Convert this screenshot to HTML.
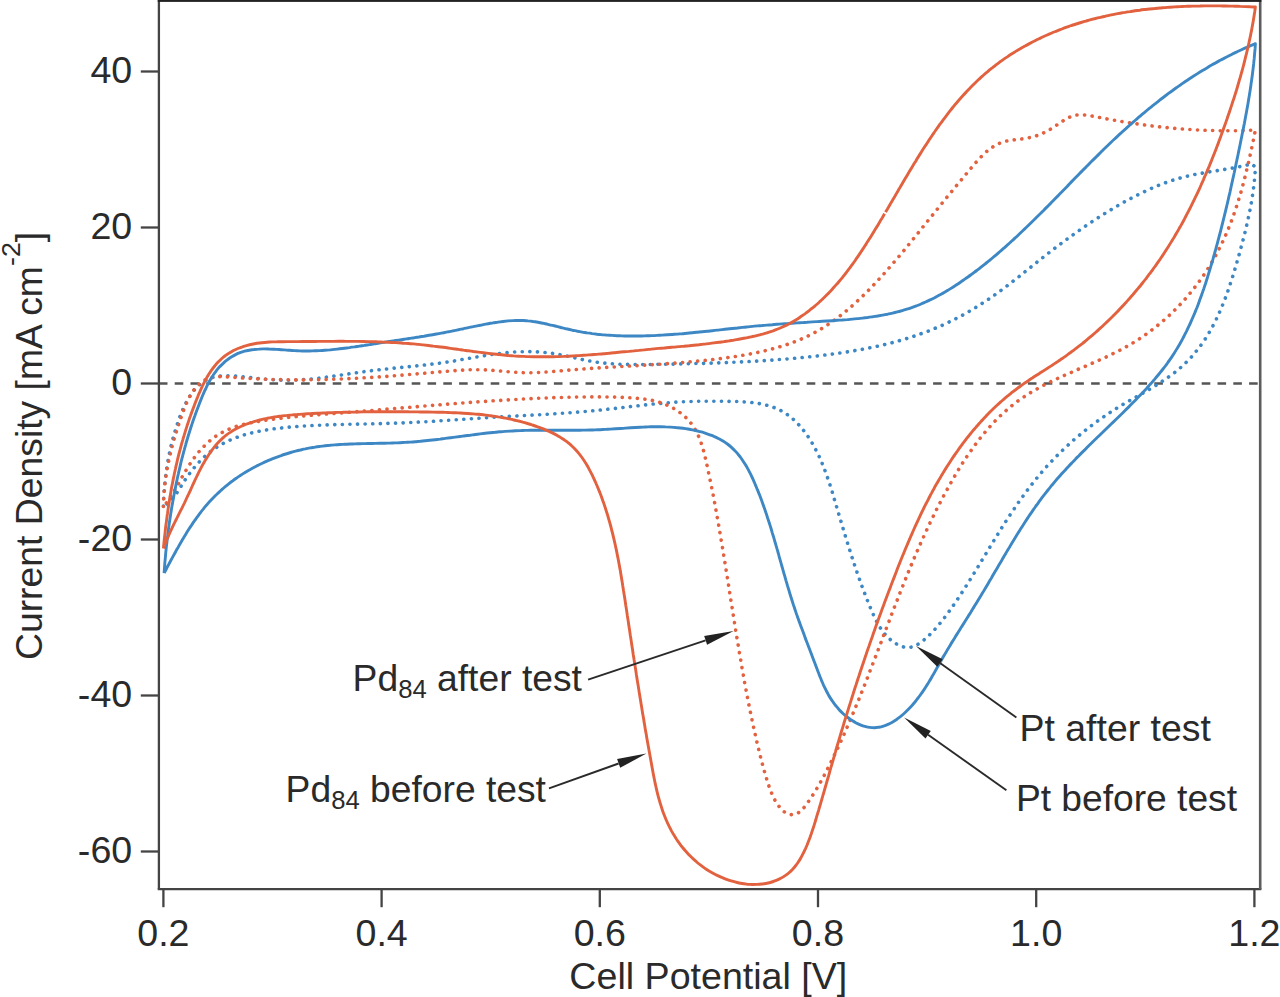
<!DOCTYPE html>
<html><head><meta charset="utf-8"><title>CV plot</title>
<style>
html,body{margin:0;padding:0;background:#fff;}
body{width:1280px;height:997px;overflow:hidden;}
svg{display:block;}
text{font-family:"Liberation Sans",sans-serif;fill:#2a2a2a;}
</style></head><body>
<svg width="1280" height="997" viewBox="0 0 1280 997">
<rect width="1280" height="997" fill="#fff"/>
<line x1="158.9" y1="383.5" x2="1260.2" y2="383.5" stroke="#555" stroke-width="2.4" stroke-dasharray="8.6 7.2"/>
<g fill="none" stroke-linejoin="round" stroke-linecap="butt">
<path d="M163.4 506.0C163.4 505.1 163.5 502.5 163.6 500.8C163.7 499.1 163.8 497.4 163.9 495.7C164.0 494.0 164.1 492.3 164.3 490.6C164.4 488.9 164.5 487.3 164.7 485.6C164.8 484.0 165.0 482.3 165.2 480.7C165.3 479.0 165.5 477.4 165.7 475.8C165.9 474.1 166.1 472.5 166.4 470.9C166.6 469.3 166.8 467.7 167.1 466.1C167.4 464.4 167.6 462.8 167.9 461.2C168.2 459.6 168.5 458.0 168.8 456.4C169.1 454.8 169.5 453.2 169.8 451.6C170.2 450.0 170.5 448.3 170.9 446.7C171.3 445.1 171.7 443.5 172.1 441.9C172.5 440.2 172.9 438.6 173.4 437.0C173.8 435.3 174.3 433.7 174.8 432.1C175.3 430.4 175.8 428.7 176.3 427.1C176.9 425.4 177.4 423.7 178.0 422.1C178.5 420.4 179.1 418.7 179.7 417.1C180.4 415.4 181.0 413.8 181.7 412.2C182.4 410.5 183.1 408.9 183.8 407.3C184.5 405.8 185.3 404.2 186.1 402.7C186.9 401.2 187.7 399.7 188.6 398.3C189.4 396.8 190.3 395.4 191.3 394.1C192.2 392.7 193.2 391.4 194.2 390.2C195.2 389.0 196.3 387.8 197.4 386.7C198.5 385.6 199.6 384.6 200.8 383.6C202.0 382.7 203.3 381.8 204.6 381.0C205.9 380.2 207.2 379.5 208.6 378.9C210.0 378.3 211.5 377.8 213.0 377.3C214.5 376.9 216.0 376.6 217.6 376.4C219.2 376.1 220.9 375.9 222.5 375.8C224.2 375.7 225.9 375.7 227.6 375.7C229.3 375.7 231.1 375.8 232.8 375.9C234.6 376.0 236.4 376.1 238.1 376.3C239.9 376.5 241.7 376.7 243.4 376.8C245.2 377.0 247.0 377.2 248.7 377.4C250.5 377.6 252.2 377.8 253.9 378.0C255.6 378.2 257.4 378.4 259.1 378.5C260.7 378.7 262.4 378.9 264.1 379.0C265.8 379.2 267.5 379.3 269.1 379.4C270.8 379.6 272.4 379.7 274.1 379.8C275.7 379.9 277.4 380.0 279.0 380.0C280.7 380.1 282.3 380.2 283.9 380.2C285.6 380.2 287.2 380.2 288.9 380.2C290.5 380.2 292.2 380.2 293.8 380.1C295.4 380.1 297.1 380.0 298.7 379.9C300.4 379.9 302.0 379.8 303.7 379.6C305.4 379.5 307.0 379.4 308.7 379.2C310.3 379.1 312.0 378.9 313.6 378.7C315.3 378.6 317.0 378.4 318.6 378.2C320.3 378.0 322.0 377.8 323.6 377.5C325.3 377.3 326.9 377.1 328.6 376.9C330.3 376.6 332.0 376.4 333.6 376.1C335.3 375.9 337.0 375.6 338.6 375.4C340.3 375.1 342.0 374.9 343.6 374.6C345.3 374.4 347.0 374.1 348.6 373.9C350.3 373.6 352.0 373.4 353.7 373.1C355.3 372.9 357.0 372.6 358.7 372.4C360.3 372.1 362.0 371.9 363.7 371.7C365.3 371.5 367.0 371.2 368.7 371.0C370.3 370.8 372.0 370.6 373.7 370.4C375.3 370.2 377.0 370.0 378.7 369.8C380.3 369.6 382.0 369.4 383.7 369.3C385.3 369.1 387.0 368.9 388.7 368.7C390.3 368.6 392.0 368.4 393.7 368.2C395.3 368.0 397.0 367.9 398.6 367.7C400.3 367.5 402.0 367.4 403.6 367.2C405.3 367.0 407.0 366.9 408.6 366.7C410.3 366.5 411.9 366.4 413.6 366.2C415.3 366.0 416.9 365.8 418.6 365.7C420.2 365.5 421.9 365.3 423.6 365.1C425.2 364.9 426.9 364.7 428.5 364.5C430.2 364.3 431.8 364.1 433.5 363.9C435.2 363.7 436.8 363.5 438.5 363.3C440.1 363.1 441.8 362.8 443.5 362.6C445.1 362.4 446.8 362.1 448.4 361.9C450.1 361.6 451.7 361.3 453.4 361.1C455.1 360.8 456.7 360.5 458.4 360.2C460.0 359.9 461.7 359.6 463.3 359.3C465.0 359.1 466.7 358.8 468.3 358.5C470.0 358.2 471.6 357.9 473.3 357.6C474.9 357.3 476.6 357.0 478.3 356.7C479.9 356.4 481.6 356.1 483.2 355.9C484.9 355.6 486.5 355.3 488.2 355.0C489.9 354.8 491.5 354.5 493.2 354.3C494.8 354.0 496.5 353.8 498.2 353.6C499.8 353.4 501.5 353.2 503.2 353.0C504.8 352.8 506.5 352.6 508.1 352.5C509.8 352.3 511.5 352.2 513.1 352.1C514.8 352.0 516.5 351.9 518.1 351.8C519.8 351.7 521.5 351.7 523.1 351.7C524.8 351.6 526.5 351.6 528.1 351.6C529.8 351.6 531.5 351.7 533.1 351.7C534.8 351.8 536.5 351.8 538.1 351.9C539.8 352.0 541.5 352.2 543.1 352.3C544.8 352.5 546.5 352.6 548.1 352.8C549.8 353.0 551.4 353.2 553.1 353.5C554.8 353.7 556.4 354.0 558.1 354.3C559.7 354.6 561.4 354.9 563.0 355.2C564.7 355.6 566.3 355.9 568.0 356.3C569.6 356.7 571.3 357.0 572.9 357.4C574.6 357.8 576.2 358.2 577.9 358.6C579.6 358.9 581.2 359.3 582.9 359.7C584.5 360.0 586.2 360.4 587.8 360.7C589.5 361.0 591.1 361.3 592.8 361.5C594.4 361.8 596.1 362.1 597.7 362.3C599.4 362.5 601.1 362.7 602.7 362.9C604.4 363.1 606.1 363.2 607.7 363.4C609.4 363.5 611.0 363.7 612.7 363.8C614.4 363.9 616.0 364.0 617.7 364.1C619.4 364.2 621.0 364.2 622.7 364.3C624.4 364.3 626.0 364.4 627.7 364.4C629.4 364.5 631.0 364.5 632.7 364.5C634.4 364.5 636.1 364.5 637.7 364.5C639.4 364.5 641.1 364.5 642.7 364.5C644.4 364.5 646.1 364.5 647.8 364.5C649.4 364.5 651.1 364.4 652.8 364.4C654.4 364.4 656.1 364.4 657.8 364.3C659.5 364.3 661.1 364.3 662.8 364.2C664.5 364.2 666.2 364.2 667.8 364.2C669.5 364.1 671.2 364.1 672.9 364.1C674.5 364.0 676.2 364.0 677.9 364.0C679.6 363.9 681.2 363.9 682.9 363.9C684.6 363.8 686.3 363.8 687.9 363.8C689.6 363.7 691.3 363.7 693.0 363.6C694.6 363.6 696.3 363.5 698.0 363.5C699.7 363.5 701.3 363.4 703.0 363.4C704.7 363.3 706.4 363.3 708.0 363.2C709.7 363.2 711.4 363.1 713.1 363.1C714.7 363.0 716.4 362.9 718.1 362.9C719.8 362.8 721.4 362.8 723.1 362.7C724.8 362.6 726.5 362.6 728.1 362.5C729.8 362.4 731.5 362.4 733.2 362.3C734.8 362.2 736.5 362.1 738.2 362.1C739.9 362.0 741.5 361.9 743.2 361.8C744.9 361.7 746.6 361.6 748.2 361.6C749.9 361.5 751.6 361.4 753.3 361.3C754.9 361.2 756.6 361.1 758.3 361.0C760.0 360.9 761.6 360.8 763.3 360.7C765.0 360.6 766.6 360.5 768.3 360.3C770.0 360.2 771.7 360.1 773.3 360.0C775.0 359.9 776.7 359.7 778.4 359.6C780.0 359.5 781.7 359.4 783.4 359.2C785.0 359.1 786.7 359.0 788.4 358.8C790.1 358.7 791.7 358.5 793.4 358.4C795.1 358.2 796.7 358.1 798.4 357.9C800.1 357.8 801.7 357.6 803.4 357.4C805.1 357.3 806.7 357.1 808.4 356.9C810.1 356.7 811.8 356.6 813.4 356.4C815.1 356.2 816.8 356.0 818.4 355.8C820.1 355.6 821.8 355.4 823.4 355.2C825.1 355.0 826.8 354.8 828.4 354.6C830.1 354.4 831.7 354.2 833.4 353.9C835.1 353.7 836.7 353.5 838.4 353.2C840.0 353.0 841.7 352.8 843.4 352.5C845.0 352.3 846.7 352.0 848.3 351.7C850.0 351.5 851.6 351.2 853.3 350.9C854.9 350.6 856.6 350.3 858.2 350.0C859.9 349.8 861.5 349.5 863.2 349.1C864.8 348.8 866.5 348.5 868.1 348.2C869.7 347.9 871.4 347.5 873.0 347.2C874.6 346.8 876.3 346.5 877.9 346.1C879.5 345.7 881.2 345.4 882.8 345.0C884.4 344.6 886.0 344.2 887.6 343.8C889.3 343.4 890.9 343.0 892.5 342.6C894.1 342.1 895.7 341.7 897.3 341.3C898.9 340.8 900.5 340.4 902.1 339.9C903.7 339.4 905.3 339.0 906.9 338.5C908.5 338.0 910.1 337.5 911.7 337.0C913.3 336.4 914.8 335.9 916.4 335.4C918.0 334.8 919.6 334.3 921.1 333.7C922.7 333.2 924.3 332.6 925.8 332.0C927.4 331.4 929.0 330.8 930.5 330.2C932.1 329.6 933.6 329.0 935.1 328.3C936.7 327.7 938.2 327.0 939.8 326.3C941.3 325.7 942.8 325.0 944.4 324.3C945.9 323.6 947.4 322.9 948.9 322.1C950.4 321.4 951.9 320.7 953.4 319.9C954.9 319.1 956.4 318.4 957.9 317.6C959.4 316.8 960.9 316.0 962.4 315.2C963.9 314.4 965.4 313.5 966.8 312.7C968.3 311.9 969.8 311.0 971.2 310.1C972.7 309.3 974.1 308.4 975.6 307.5C977.0 306.6 978.5 305.7 979.9 304.8C981.3 303.9 982.7 303.0 984.2 302.1C985.6 301.1 987.0 300.2 988.4 299.3C989.8 298.3 991.2 297.4 992.6 296.4C994.0 295.4 995.3 294.5 996.7 293.5C998.1 292.5 999.4 291.5 1000.8 290.5C1002.2 289.5 1003.5 288.5 1004.8 287.5C1006.2 286.5 1007.5 285.5 1008.8 284.5C1010.2 283.5 1011.5 282.5 1012.8 281.4C1014.1 280.4 1015.4 279.4 1016.7 278.4C1018.1 277.3 1019.4 276.3 1020.7 275.3C1022.0 274.2 1023.3 273.2 1024.6 272.1C1025.9 271.1 1027.2 270.1 1028.5 269.0C1029.8 268.0 1031.0 266.9 1032.3 265.9C1033.6 264.9 1034.9 263.8 1036.2 262.8C1037.5 261.7 1038.8 260.7 1040.1 259.7C1041.4 258.6 1042.7 257.6 1044.1 256.6C1045.4 255.5 1046.7 254.5 1048.0 253.5C1049.3 252.5 1050.6 251.4 1052.0 250.4C1053.3 249.4 1054.6 248.4 1055.9 247.4C1057.3 246.4 1058.6 245.4 1059.9 244.4C1061.3 243.4 1062.6 242.4 1064.0 241.4C1065.3 240.4 1066.7 239.4 1068.0 238.4C1069.4 237.4 1070.7 236.4 1072.1 235.4C1073.5 234.5 1074.8 233.5 1076.2 232.5C1077.6 231.6 1078.9 230.6 1080.3 229.6C1081.7 228.7 1083.1 227.7 1084.5 226.8C1085.8 225.8 1087.2 224.9 1088.6 224.0C1090.0 223.0 1091.4 222.1 1092.8 221.2C1094.2 220.2 1095.6 219.3 1097.0 218.4C1098.5 217.5 1099.9 216.6 1101.3 215.7C1102.7 214.8 1104.1 213.9 1105.6 213.0C1107.0 212.1 1108.4 211.3 1109.9 210.4C1111.3 209.5 1112.7 208.6 1114.2 207.8C1115.6 206.9 1117.1 206.1 1118.5 205.2C1120.0 204.4 1121.5 203.6 1122.9 202.7C1124.4 201.9 1125.9 201.1 1127.3 200.3C1128.8 199.5 1130.3 198.7 1131.8 197.9C1133.3 197.1 1134.7 196.3 1136.2 195.6C1137.7 194.8 1139.2 194.1 1140.7 193.3C1142.2 192.6 1143.8 191.9 1145.3 191.2C1146.8 190.4 1148.3 189.7 1149.8 189.1C1151.4 188.4 1152.9 187.7 1154.4 187.1C1156.0 186.4 1157.5 185.8 1159.1 185.2C1160.6 184.5 1162.2 183.9 1163.8 183.4C1165.3 182.8 1166.9 182.2 1168.5 181.7C1170.0 181.1 1171.6 180.6 1173.2 180.1C1174.8 179.6 1176.4 179.1 1178.0 178.6C1179.6 178.2 1181.2 177.7 1182.8 177.3C1184.4 176.9 1186.1 176.5 1187.7 176.1C1189.3 175.7 1190.9 175.3 1192.6 175.0C1194.2 174.6 1195.9 174.3 1197.5 174.0C1199.2 173.7 1200.8 173.4 1202.5 173.1C1204.1 172.8 1205.8 172.5 1207.4 172.2C1209.1 171.9 1210.7 171.7 1212.4 171.4C1214.1 171.1 1215.7 170.9 1217.4 170.6C1219.1 170.3 1220.7 170.1 1222.4 169.8C1224.0 169.5 1225.7 169.2 1227.4 169.0C1229.0 168.7 1230.7 168.4 1232.3 168.1C1234.0 167.8 1235.6 167.5 1237.3 167.2C1238.9 166.8 1240.5 166.5 1242.2 166.1C1243.8 165.8 1245.4 165.4 1247.1 165.0C1248.7 164.6 1251.1 164.0 1251.9 163.8C1252.5 164.4 1254.8 166.7 1255.4 167.3C1255.3 168.1 1255.2 170.7 1255.1 172.4C1255.0 174.1 1254.8 175.8 1254.7 177.4C1254.5 179.1 1254.4 180.8 1254.2 182.5C1254.0 184.1 1253.8 185.8 1253.6 187.5C1253.4 189.1 1253.2 190.8 1252.9 192.4C1252.7 194.1 1252.4 195.7 1252.2 197.4C1251.9 199.0 1251.7 200.7 1251.4 202.3C1251.1 204.0 1250.8 205.6 1250.5 207.2C1250.2 208.9 1249.9 210.5 1249.5 212.1C1249.2 213.7 1248.9 215.4 1248.5 217.0C1248.2 218.6 1247.8 220.2 1247.5 221.9C1247.1 223.5 1246.7 225.1 1246.4 226.7C1246.0 228.3 1245.6 229.9 1245.2 231.6C1244.8 233.2 1244.4 234.8 1244.0 236.4C1243.6 238.0 1243.2 239.6 1242.7 241.2C1242.3 242.9 1241.9 244.5 1241.4 246.1C1241.0 247.7 1240.6 249.3 1240.1 250.9C1239.7 252.6 1239.2 254.2 1238.8 255.8C1238.3 257.4 1237.9 259.0 1237.4 260.6C1236.9 262.3 1236.5 263.9 1236.0 265.5C1235.5 267.1 1235.0 268.8 1234.6 270.4C1234.1 272.0 1233.6 273.6 1233.1 275.2C1232.6 276.8 1232.1 278.5 1231.6 280.1C1231.0 281.7 1230.5 283.3 1230.0 284.9C1229.5 286.5 1228.9 288.1 1228.4 289.7C1227.8 291.3 1227.2 292.9 1226.7 294.5C1226.1 296.0 1225.5 297.6 1224.9 299.2C1224.3 300.8 1223.7 302.3 1223.1 303.9C1222.4 305.4 1221.8 307.0 1221.1 308.5C1220.5 310.1 1219.8 311.6 1219.1 313.1C1218.4 314.7 1217.7 316.2 1217.0 317.7C1216.3 319.2 1215.6 320.7 1214.8 322.2C1214.1 323.6 1213.3 325.1 1212.5 326.6C1211.7 328.0 1210.9 329.5 1210.1 330.9C1209.3 332.3 1208.5 333.8 1207.6 335.2C1206.7 336.6 1205.9 338.0 1205.0 339.3C1204.1 340.7 1203.1 342.1 1202.2 343.4C1201.2 344.8 1200.3 346.1 1199.3 347.4C1198.3 348.7 1197.3 350.0 1196.2 351.3C1195.2 352.6 1194.1 353.9 1193.1 355.1C1192.0 356.3 1190.9 357.6 1189.7 358.8C1188.6 360.0 1187.4 361.2 1186.2 362.3C1185.0 363.5 1183.8 364.6 1182.6 365.8C1181.3 366.9 1180.1 368.0 1178.8 369.1C1177.5 370.2 1176.2 371.2 1174.9 372.3C1173.5 373.3 1172.2 374.3 1170.8 375.4C1169.4 376.4 1168.0 377.4 1166.7 378.3C1165.3 379.3 1163.8 380.3 1162.4 381.2C1161.0 382.2 1159.6 383.1 1158.1 384.0C1156.7 384.9 1155.3 385.8 1153.8 386.7C1152.4 387.6 1150.9 388.4 1149.5 389.3C1148.0 390.1 1146.6 391.0 1145.1 391.8C1143.7 392.7 1142.2 393.5 1140.7 394.3C1139.3 395.1 1137.8 395.9 1136.4 396.8C1134.9 397.6 1133.5 398.4 1132.0 399.2C1130.6 400.0 1129.2 400.8 1127.7 401.7C1126.3 402.5 1124.9 403.3 1123.4 404.2C1122.0 405.0 1120.6 405.9 1119.2 406.7C1117.7 407.6 1116.3 408.5 1114.9 409.4C1113.5 410.2 1112.1 411.1 1110.7 412.0C1109.3 413.0 1107.9 413.9 1106.5 414.8C1105.2 415.7 1103.8 416.7 1102.4 417.6C1101.0 418.6 1099.7 419.5 1098.3 420.5C1097.0 421.5 1095.6 422.5 1094.3 423.5C1092.9 424.5 1091.6 425.5 1090.3 426.5C1088.9 427.5 1087.6 428.5 1086.3 429.6C1085.0 430.6 1083.7 431.6 1082.4 432.7C1081.1 433.7 1079.8 434.8 1078.5 435.9C1077.2 437.0 1076.0 438.0 1074.7 439.1C1073.4 440.2 1072.2 441.3 1070.9 442.4C1069.7 443.6 1068.5 444.7 1067.2 445.8C1066.0 447.0 1064.8 448.1 1063.6 449.2C1062.4 450.4 1061.1 451.6 1060.0 452.7C1058.8 453.9 1057.6 455.1 1056.4 456.3C1055.2 457.5 1054.1 458.7 1052.9 459.9C1051.8 461.1 1050.6 462.3 1049.5 463.5C1048.3 464.8 1047.2 466.0 1046.1 467.2C1045.0 468.5 1043.9 469.7 1042.8 471.0C1041.7 472.3 1040.6 473.5 1039.6 474.8C1038.5 476.1 1037.4 477.4 1036.4 478.7C1035.3 480.0 1034.3 481.3 1033.2 482.6C1032.2 483.9 1031.2 485.2 1030.2 486.5C1029.2 487.9 1028.1 489.2 1027.1 490.5C1026.1 491.9 1025.2 493.2 1024.2 494.6C1023.2 495.9 1022.2 497.3 1021.2 498.6C1020.3 500.0 1019.3 501.4 1018.3 502.7C1017.4 504.1 1016.4 505.5 1015.5 506.9C1014.6 508.2 1013.6 509.6 1012.7 511.0C1011.8 512.4 1010.8 513.8 1009.9 515.2C1009.0 516.6 1008.1 518.0 1007.2 519.4C1006.2 520.8 1005.3 522.2 1004.4 523.6C1003.5 525.1 1002.6 526.5 1001.7 527.9C1000.9 529.3 1000.0 530.7 999.1 532.2C998.2 533.6 997.3 535.0 996.4 536.4C995.5 537.9 994.7 539.3 993.8 540.7C992.9 542.2 992.0 543.6 991.2 545.0C990.3 546.4 989.4 547.9 988.6 549.3C987.7 550.7 986.8 552.2 986.0 553.6C985.1 555.0 984.2 556.5 983.4 557.9C982.5 559.3 981.6 560.8 980.8 562.2C979.9 563.6 979.0 565.1 978.2 566.5C977.3 567.9 976.4 569.4 975.6 570.8C974.7 572.2 973.8 573.6 973.0 575.1C972.1 576.5 971.2 577.9 970.3 579.3C969.5 580.7 968.6 582.2 967.7 583.6C966.8 585.0 965.9 586.4 965.0 587.8C964.1 589.2 963.2 590.6 962.3 592.0C961.4 593.4 960.5 594.8 959.6 596.2C958.7 597.6 957.7 599.0 956.8 600.4C955.9 601.7 954.9 603.1 954.0 604.5C953.0 605.9 952.1 607.2 951.1 608.6C950.1 610.0 949.2 611.3 948.2 612.7C947.2 614.0 946.2 615.4 945.2 616.7C944.2 618.1 943.1 619.4 942.1 620.7C941.1 622.1 940.0 623.4 938.9 624.7C937.8 626.0 936.8 627.2 935.6 628.5C934.5 629.7 933.4 631.0 932.2 632.2C931.0 633.4 929.8 634.6 928.6 635.8C927.3 636.9 926.1 638.1 924.8 639.2C923.5 640.3 922.1 641.4 920.8 642.4C919.4 643.3 918.0 644.3 916.6 645.1C915.1 645.8 913.6 646.5 912.1 646.9C910.6 647.3 909.1 647.5 907.5 647.5C906.0 647.5 904.4 647.2 902.8 646.7C901.2 646.3 899.6 645.6 898.1 644.8C896.6 644.1 895.1 643.1 893.7 642.2C892.3 641.2 890.9 640.1 889.7 639.0C888.4 637.9 887.2 636.7 886.1 635.5C885.0 634.3 883.9 633.0 882.9 631.7C882.0 630.3 881.0 629.0 880.1 627.6C879.2 626.2 878.4 624.7 877.6 623.3C876.8 621.8 876.0 620.3 875.3 618.8C874.5 617.3 873.8 615.8 873.2 614.2C872.5 612.7 871.8 611.1 871.2 609.6C870.5 608.0 869.9 606.4 869.2 604.9C868.6 603.3 868.0 601.8 867.3 600.2C866.7 598.6 866.1 597.1 865.5 595.5C864.9 593.9 864.3 592.3 863.7 590.8C863.1 589.2 862.5 587.6 861.9 586.1C861.4 584.5 860.8 582.9 860.2 581.3C859.7 579.8 859.1 578.2 858.5 576.6C858.0 575.0 857.4 573.4 856.9 571.9C856.4 570.3 855.8 568.7 855.3 567.1C854.7 565.5 854.2 563.9 853.7 562.4C853.2 560.8 852.7 559.2 852.1 557.6C851.6 556.0 851.1 554.4 850.6 552.8C850.1 551.2 849.6 549.6 849.1 548.1C848.6 546.5 848.1 544.9 847.6 543.3C847.1 541.7 846.6 540.1 846.1 538.5C845.6 536.9 845.1 535.3 844.7 533.7C844.2 532.1 843.7 530.5 843.2 528.9C842.7 527.3 842.2 525.7 841.8 524.1C841.3 522.5 840.8 520.9 840.3 519.3C839.8 517.7 839.4 516.1 838.9 514.5C838.4 512.9 837.9 511.3 837.5 509.7C837.0 508.1 836.5 506.5 836.0 504.9C835.6 503.3 835.1 501.7 834.6 500.1C834.1 498.5 833.6 496.8 833.2 495.2C832.7 493.6 832.2 492.0 831.7 490.4C831.2 488.8 830.7 487.2 830.2 485.6C829.7 484.0 829.1 482.4 828.6 480.9C828.1 479.3 827.5 477.7 827.0 476.1C826.4 474.5 825.9 472.9 825.3 471.4C824.7 469.8 824.1 468.2 823.5 466.7C822.9 465.1 822.2 463.6 821.6 462.0C820.9 460.5 820.3 458.9 819.6 457.4C818.9 455.9 818.1 454.4 817.4 452.9C816.7 451.4 815.9 449.9 815.1 448.4C814.3 446.9 813.5 445.4 812.6 443.9C811.8 442.5 810.9 441.0 810.0 439.6C809.1 438.2 808.2 436.7 807.2 435.4C806.2 434.0 805.2 432.6 804.2 431.3C803.2 429.9 802.1 428.6 801.1 427.3C800.0 426.0 798.9 424.8 797.7 423.6C796.6 422.4 795.4 421.2 794.2 420.1C793.0 419.0 791.7 417.9 790.4 416.9C789.2 415.9 787.9 414.9 786.5 414.0C785.2 413.1 783.8 412.2 782.4 411.4C781.0 410.6 779.5 409.9 778.1 409.2C776.6 408.6 775.1 407.9 773.6 407.4C772.0 406.8 770.5 406.3 768.9 405.8C767.3 405.4 765.7 405.0 764.1 404.6C762.5 404.2 760.8 403.9 759.2 403.6C757.5 403.3 755.8 403.1 754.1 402.8C752.5 402.6 750.8 402.4 749.0 402.3C747.3 402.1 745.6 402.0 743.9 401.9C742.2 401.8 740.4 401.7 738.7 401.6C737.0 401.5 735.3 401.5 733.5 401.4C731.8 401.4 730.1 401.4 728.4 401.3C726.6 401.3 724.9 401.3 723.2 401.3C721.5 401.3 719.8 401.2 718.1 401.2C716.4 401.2 714.8 401.2 713.1 401.2C711.4 401.2 709.7 401.2 708.1 401.2C706.4 401.2 704.8 401.2 703.1 401.2C701.4 401.2 699.8 401.3 698.1 401.3C696.5 401.3 694.8 401.3 693.2 401.4C691.6 401.4 689.9 401.5 688.3 401.5C686.6 401.6 685.0 401.7 683.3 401.7C681.7 401.8 680.0 401.9 678.4 402.0C676.7 402.1 675.1 402.2 673.4 402.3C671.8 402.4 670.1 402.6 668.4 402.7C666.8 402.8 665.1 403.0 663.5 403.1C661.8 403.3 660.1 403.4 658.5 403.6C656.8 403.7 655.2 403.9 653.5 404.0C651.8 404.2 650.2 404.4 648.5 404.6C646.8 404.7 645.2 404.9 643.5 405.1C641.8 405.3 640.2 405.5 638.5 405.7C636.8 405.9 635.1 406.0 633.5 406.2C631.8 406.4 630.1 406.6 628.5 406.8C626.8 407.0 625.1 407.2 623.4 407.4C621.8 407.6 620.1 407.8 618.4 408.0C616.8 408.2 615.1 408.4 613.4 408.6C611.7 408.8 610.1 409.0 608.4 409.1C606.7 409.3 605.0 409.5 603.4 409.7C601.7 409.9 600.0 410.1 598.4 410.2C596.7 410.4 595.0 410.6 593.3 410.7C591.7 410.9 590.0 411.0 588.3 411.2C586.7 411.4 585.0 411.5 583.3 411.6C581.7 411.8 580.0 411.9 578.3 412.1C576.7 412.2 575.0 412.3 573.3 412.5C571.7 412.6 570.0 412.7 568.3 412.8C566.7 413.0 565.0 413.1 563.3 413.2C561.7 413.3 560.0 413.4 558.3 413.5C556.7 413.6 555.0 413.7 553.3 413.9C551.7 414.0 550.0 414.1 548.4 414.2C546.7 414.3 545.0 414.4 543.4 414.5C541.7 414.6 540.0 414.7 538.4 414.7C536.7 414.8 535.0 414.9 533.4 415.0C531.7 415.1 530.0 415.2 528.4 415.3C526.7 415.4 525.0 415.5 523.4 415.6C521.7 415.7 520.0 415.8 518.4 415.9C516.7 415.9 515.0 416.0 513.4 416.1C511.7 416.2 510.0 416.3 508.4 416.4C506.7 416.5 505.0 416.6 503.4 416.7C501.7 416.8 500.0 416.9 498.4 417.0C496.7 417.1 495.0 417.2 493.3 417.3C491.7 417.4 490.0 417.5 488.3 417.6C486.6 417.7 485.0 417.8 483.3 417.9C481.6 418.0 480.0 418.2 478.3 418.3C476.6 418.4 474.9 418.5 473.3 418.6C471.6 418.7 469.9 418.8 468.2 418.9C466.6 419.0 464.9 419.2 463.2 419.3C461.5 419.4 459.8 419.5 458.2 419.6C456.5 419.7 454.8 419.8 453.1 420.0C451.5 420.1 449.8 420.2 448.1 420.3C446.4 420.4 444.8 420.5 443.1 420.6C441.4 420.7 439.7 420.8 438.1 420.9C436.4 421.0 434.7 421.1 433.0 421.3C431.4 421.4 429.7 421.5 428.0 421.6C426.3 421.7 424.7 421.8 423.0 421.8C421.3 421.9 419.6 422.0 418.0 422.1C416.3 422.2 414.6 422.3 412.9 422.4C411.3 422.5 409.6 422.6 407.9 422.6C406.3 422.7 404.6 422.8 402.9 422.9C401.2 422.9 399.6 423.0 397.9 423.1C396.2 423.1 394.6 423.2 392.9 423.3C391.2 423.3 389.6 423.4 387.9 423.4C386.2 423.5 384.6 423.5 382.9 423.6C381.2 423.6 379.6 423.7 377.9 423.7C376.3 423.7 374.6 423.8 372.9 423.8C371.3 423.9 369.6 423.9 367.9 423.9C366.3 424.0 364.6 424.0 363.0 424.0C361.3 424.1 359.6 424.1 358.0 424.1C356.3 424.2 354.6 424.2 353.0 424.2C351.3 424.3 349.7 424.3 348.0 424.3C346.3 424.4 344.7 424.4 343.0 424.4C341.3 424.5 339.7 424.5 338.0 424.6C336.3 424.6 334.7 424.7 333.0 424.7C331.3 424.8 329.7 424.8 328.0 424.9C326.3 424.9 324.7 425.0 323.0 425.0C321.3 425.1 319.7 425.2 318.0 425.3C316.3 425.3 314.6 425.4 313.0 425.5C311.3 425.6 309.6 425.7 307.9 425.8C306.3 425.9 304.6 426.0 302.9 426.1C301.2 426.2 299.5 426.3 297.8 426.4C296.2 426.6 294.5 426.7 292.8 426.8C291.1 427.0 289.4 427.1 287.7 427.3C286.0 427.4 284.3 427.6 282.6 427.8C280.9 428.0 279.3 428.2 277.6 428.4C275.9 428.6 274.2 428.8 272.5 429.0C270.8 429.3 269.1 429.5 267.5 429.8C265.8 430.0 264.1 430.3 262.5 430.6C260.8 430.9 259.1 431.3 257.5 431.6C255.8 431.9 254.2 432.3 252.6 432.7C250.9 433.1 249.3 433.5 247.7 433.9C246.1 434.4 244.5 434.8 242.9 435.3C241.3 435.8 239.8 436.3 238.2 436.9C236.7 437.4 235.1 438.0 233.6 438.6C232.1 439.2 230.6 439.9 229.1 440.5C227.6 441.2 226.1 441.9 224.7 442.7C223.2 443.4 221.8 444.2 220.4 445.0C219.0 445.8 217.6 446.7 216.2 447.6C214.8 448.5 213.5 449.4 212.2 450.4C210.8 451.4 209.5 452.4 208.3 453.4C207.0 454.5 205.7 455.6 204.5 456.7C203.3 457.8 202.1 459.0 200.9 460.2C199.7 461.4 198.6 462.6 197.5 463.9C196.3 465.2 195.2 466.4 194.1 467.8C193.1 469.1 192.0 470.4 191.0 471.8C189.9 473.1 188.9 474.5 187.9 475.9C186.9 477.3 185.9 478.7 185.0 480.1C184.0 481.5 183.1 482.9 182.2 484.4C181.3 485.8 180.4 487.3 179.5 488.7C178.6 490.1 177.7 491.6 176.8 492.9C175.9 494.3 175.0 495.6 174.0 496.9C173.0 498.2 172.0 499.4 170.9 500.5C169.8 501.6 168.6 502.7 167.4 503.6C166.1 504.5 164.1 505.6 163.4 506.0" stroke="#3D88C4" stroke-width="3.6" stroke-linecap="round" stroke-dasharray="0.1 7.5"/>
<path d="M163.4 506.5C163.4 505.7 163.4 503.2 163.5 501.6C163.6 499.9 163.6 498.2 163.7 496.6C163.8 494.9 164.0 493.2 164.1 491.5C164.3 489.9 164.4 488.2 164.6 486.5C164.8 484.8 165.0 483.1 165.2 481.5C165.4 479.8 165.7 478.1 165.9 476.4C166.2 474.7 166.4 473.1 166.7 471.4C167.0 469.7 167.3 468.1 167.6 466.4C168.0 464.7 168.3 463.1 168.6 461.4C169.0 459.8 169.3 458.2 169.7 456.5C170.1 454.9 170.4 453.3 170.8 451.7C171.2 450.1 171.6 448.5 172.0 446.9C172.4 445.3 172.8 443.7 173.3 442.2C173.7 440.6 174.1 439.0 174.6 437.5C175.0 435.9 175.5 434.3 176.0 432.8C176.5 431.2 177.0 429.6 177.5 428.0C178.0 426.5 178.5 424.9 179.0 423.3C179.6 421.7 180.1 420.1 180.7 418.5C181.2 416.9 181.8 415.3 182.4 413.6C183.0 412.0 183.6 410.3 184.2 408.7C184.8 407.1 185.5 405.4 186.2 403.8C186.9 402.2 187.6 400.6 188.4 399.0C189.2 397.4 190.0 395.9 190.9 394.4C191.8 392.9 192.8 391.5 193.8 390.1C194.8 388.7 195.9 387.4 197.1 386.1C198.3 384.9 199.5 383.7 200.8 382.7C202.1 381.7 203.5 380.8 204.9 380.0C206.3 379.3 207.7 378.7 209.2 378.2C210.7 377.8 212.2 377.4 213.8 377.2C215.4 376.9 217.0 376.8 218.6 376.7C220.2 376.6 221.8 376.6 223.5 376.7C225.2 376.7 226.8 376.8 228.5 376.9C230.2 377.0 231.9 377.2 233.6 377.3C235.3 377.5 237.0 377.6 238.7 377.7C240.4 377.8 242.0 378.0 243.7 378.1C245.4 378.2 247.1 378.3 248.8 378.4C250.5 378.5 252.2 378.6 253.9 378.7C255.5 378.8 257.2 378.9 258.9 378.9C260.6 379.0 262.3 379.1 264.0 379.2C265.6 379.2 267.3 379.3 269.0 379.4C270.7 379.4 272.4 379.5 274.0 379.5C275.7 379.6 277.4 379.6 279.1 379.6C280.7 379.7 282.4 379.7 284.1 379.7C285.8 379.8 287.5 379.8 289.1 379.8C290.8 379.8 292.5 379.8 294.2 379.8C295.8 379.9 297.5 379.9 299.2 379.9C300.8 379.9 302.5 379.9 304.2 379.8C305.9 379.8 307.5 379.8 309.2 379.8C310.9 379.8 312.6 379.8 314.2 379.7C315.9 379.7 317.6 379.7 319.2 379.7C320.9 379.6 322.6 379.6 324.3 379.5C325.9 379.5 327.6 379.4 329.3 379.4C330.9 379.3 332.6 379.3 334.3 379.2C335.9 379.2 337.6 379.1 339.3 379.1C340.9 379.0 342.6 378.9 344.3 378.8C346.0 378.8 347.6 378.7 349.3 378.6C351.0 378.5 352.6 378.5 354.3 378.4C356.0 378.3 357.6 378.2 359.3 378.1C361.0 378.0 362.6 377.9 364.3 377.8C366.0 377.7 367.6 377.6 369.3 377.5C371.0 377.4 372.7 377.3 374.3 377.2C376.0 377.1 377.7 377.0 379.3 376.9C381.0 376.7 382.7 376.6 384.3 376.5C386.0 376.4 387.7 376.3 389.4 376.1C391.0 376.0 392.7 375.9 394.4 375.7C396.0 375.6 397.7 375.5 399.4 375.4C401.1 375.2 402.7 375.1 404.4 374.9C406.1 374.8 407.8 374.7 409.4 374.5C411.1 374.4 412.8 374.2 414.4 374.1C416.1 373.9 417.8 373.8 419.5 373.6C421.1 373.5 422.8 373.3 424.5 373.2C426.2 373.0 427.8 372.9 429.5 372.7C431.2 372.6 432.9 372.5 434.5 372.3C436.2 372.2 437.9 372.0 439.6 371.9C441.2 371.7 442.9 371.6 444.6 371.5C446.3 371.3 447.9 371.2 449.6 371.0C451.3 370.9 453.0 370.8 454.6 370.7C456.3 370.5 458.0 370.4 459.6 370.3C461.3 370.2 463.0 370.1 464.7 370.0C466.3 369.9 468.0 369.9 469.7 369.8C471.3 369.8 473.0 369.7 474.7 369.7C476.3 369.7 478.0 369.7 479.7 369.7C481.4 369.8 483.0 369.8 484.7 369.9C486.4 369.9 488.0 370.0 489.7 370.2C491.4 370.3 493.0 370.4 494.7 370.5C496.4 370.7 498.0 370.8 499.7 371.0C501.4 371.1 503.0 371.3 504.7 371.4C506.4 371.6 508.0 371.7 509.7 371.8C511.4 372.0 513.1 372.1 514.7 372.2C516.4 372.3 518.1 372.5 519.7 372.5C521.4 372.6 523.1 372.7 524.8 372.7C526.4 372.7 528.1 372.8 529.8 372.7C531.5 372.7 533.1 372.7 534.8 372.6C536.5 372.6 538.2 372.5 539.8 372.4C541.5 372.3 543.2 372.2 544.9 372.1C546.6 372.0 548.2 371.9 549.9 371.8C551.6 371.6 553.3 371.5 554.9 371.3C556.6 371.2 558.3 371.0 560.0 370.9C561.7 370.7 563.3 370.6 565.0 370.4C566.7 370.3 568.4 370.1 570.0 370.0C571.7 369.9 573.4 369.7 575.1 369.6C576.7 369.5 578.4 369.3 580.1 369.2C581.8 369.1 583.4 369.0 585.1 368.8C586.8 368.7 588.4 368.6 590.1 368.5C591.8 368.4 593.5 368.3 595.1 368.2C596.8 368.0 598.5 367.9 600.1 367.8C601.8 367.7 603.5 367.6 605.1 367.5C606.8 367.4 608.5 367.3 610.2 367.2C611.8 367.1 613.5 367.0 615.2 366.9C616.8 366.8 618.5 366.7 620.2 366.6C621.8 366.5 623.5 366.4 625.2 366.3C626.8 366.2 628.5 366.1 630.2 366.0C631.8 365.9 633.5 365.8 635.2 365.7C636.8 365.6 638.5 365.5 640.2 365.4C641.8 365.3 643.5 365.2 645.2 365.1C646.8 365.0 648.5 364.9 650.2 364.8C651.8 364.7 653.5 364.6 655.2 364.5C656.8 364.4 658.5 364.3 660.1 364.2C661.8 364.1 663.5 364.0 665.1 363.8C666.8 363.7 668.5 363.6 670.1 363.5C671.8 363.4 673.5 363.2 675.1 363.1C676.8 363.0 678.5 362.8 680.1 362.7C681.8 362.6 683.5 362.4 685.1 362.3C686.8 362.1 688.5 362.0 690.1 361.8C691.8 361.7 693.5 361.5 695.1 361.4C696.8 361.2 698.5 361.1 700.2 360.9C701.8 360.7 703.5 360.5 705.2 360.4C706.8 360.2 708.5 360.0 710.2 359.8C711.8 359.6 713.5 359.4 715.2 359.2C716.8 359.0 718.5 358.8 720.2 358.6C721.9 358.4 723.5 358.2 725.2 357.9C726.9 357.7 728.6 357.5 730.2 357.2C731.9 357.0 733.6 356.7 735.2 356.5C736.9 356.2 738.6 356.0 740.3 355.7C741.9 355.4 743.6 355.1 745.3 354.8C746.9 354.5 748.6 354.2 750.3 353.9C751.9 353.6 753.6 353.3 755.2 352.9C756.9 352.6 758.5 352.2 760.2 351.9C761.8 351.5 763.5 351.1 765.1 350.7C766.8 350.4 768.4 350.0 770.0 349.5C771.6 349.1 773.3 348.7 774.9 348.2C776.5 347.8 778.1 347.3 779.7 346.8C781.3 346.4 782.9 345.9 784.5 345.3C786.1 344.8 787.7 344.3 789.2 343.7C790.8 343.2 792.4 342.6 793.9 342.0C795.5 341.4 797.0 340.8 798.5 340.2C800.1 339.6 801.6 338.9 803.1 338.2C804.6 337.6 806.1 336.9 807.6 336.2C809.1 335.4 810.6 334.7 812.1 334.0C813.5 333.2 815.0 332.4 816.4 331.6C817.9 330.8 819.3 330.0 820.7 329.1C822.2 328.3 823.6 327.4 825.0 326.5C826.4 325.6 827.7 324.7 829.1 323.8C830.5 322.9 831.9 321.9 833.2 320.9C834.6 320.0 835.9 319.0 837.3 318.0C838.6 317.0 839.9 316.0 841.2 314.9C842.5 313.9 843.8 312.8 845.1 311.8C846.4 310.7 847.7 309.6 849.0 308.6C850.3 307.5 851.5 306.4 852.8 305.2C854.0 304.1 855.3 303.0 856.5 301.8C857.8 300.7 859.0 299.5 860.2 298.4C861.4 297.2 862.7 296.0 863.9 294.9C865.1 293.7 866.3 292.5 867.5 291.3C868.7 290.1 869.8 288.9 871.0 287.7C872.2 286.4 873.4 285.2 874.5 284.0C875.7 282.8 876.8 281.5 878.0 280.3C879.1 279.0 880.3 277.8 881.4 276.6C882.5 275.3 883.7 274.1 884.8 272.8C885.9 271.5 887.0 270.3 888.1 269.0C889.2 267.8 890.3 266.5 891.4 265.2C892.5 264.0 893.6 262.7 894.7 261.4C895.8 260.1 896.9 258.9 898.0 257.6C899.1 256.3 900.1 255.0 901.2 253.7C902.3 252.4 903.4 251.2 904.4 249.9C905.5 248.6 906.6 247.3 907.6 246.0C908.7 244.7 909.7 243.4 910.8 242.1C911.8 240.8 912.9 239.5 913.9 238.2C915.0 236.9 916.0 235.6 917.1 234.3C918.1 233.0 919.2 231.7 920.2 230.4C921.3 229.1 922.3 227.8 923.3 226.5C924.4 225.2 925.4 223.9 926.5 222.6C927.5 221.3 928.5 220.0 929.6 218.7C930.6 217.4 931.7 216.1 932.7 214.9C933.8 213.6 934.8 212.3 935.8 211.0C936.9 209.7 937.9 208.4 939.0 207.1C940.0 205.8 941.1 204.5 942.1 203.2C943.2 201.9 944.2 200.6 945.3 199.3C946.3 198.0 947.4 196.7 948.4 195.4C949.5 194.2 950.5 192.9 951.6 191.6C952.7 190.3 953.7 189.0 954.8 187.7C955.9 186.4 956.9 185.1 958.0 183.8C959.1 182.5 960.2 181.2 961.3 179.9C962.3 178.6 963.4 177.3 964.5 176.0C965.6 174.7 966.7 173.4 967.8 172.1C968.9 170.8 970.0 169.5 971.1 168.1C972.2 166.8 973.3 165.5 974.4 164.2C975.5 162.9 976.7 161.6 977.8 160.3C979.0 159.1 980.1 157.8 981.3 156.6C982.5 155.4 983.7 154.2 984.9 153.1C986.2 151.9 987.4 150.8 988.7 149.8C990.0 148.8 991.3 147.8 992.7 147.0C994.1 146.1 995.4 145.2 996.9 144.5C998.3 143.8 999.8 143.1 1001.3 142.6C1002.9 142.0 1004.4 141.6 1006.0 141.2C1007.7 140.8 1009.3 140.5 1011.0 140.3C1012.6 140.0 1014.3 139.8 1016.0 139.6C1017.7 139.4 1019.4 139.2 1021.1 139.0C1022.8 138.8 1024.5 138.6 1026.1 138.3C1027.8 138.0 1029.4 137.7 1031.0 137.3C1032.6 137.0 1034.2 136.5 1035.7 136.0C1037.3 135.5 1038.8 135.0 1040.3 134.3C1041.8 133.7 1043.3 133.0 1044.8 132.3C1046.3 131.6 1047.7 130.8 1049.2 129.9C1050.7 129.1 1052.1 128.2 1053.6 127.2C1055.0 126.3 1056.5 125.2 1057.9 124.3C1059.4 123.3 1060.9 122.2 1062.3 121.3C1063.8 120.4 1065.3 119.4 1066.8 118.7C1068.3 117.9 1069.8 117.1 1071.3 116.5C1072.9 116.0 1074.4 115.5 1076.0 115.2C1077.5 114.9 1079.1 114.8 1080.7 114.8C1082.3 114.8 1084.0 114.9 1085.6 115.1C1087.2 115.2 1088.9 115.5 1090.5 115.8C1092.2 116.1 1093.8 116.4 1095.5 116.7C1097.1 117.0 1098.8 117.4 1100.4 117.7C1102.1 118.0 1103.7 118.3 1105.4 118.6C1107.1 119.0 1108.7 119.3 1110.4 119.6C1112.0 119.9 1113.7 120.2 1115.3 120.4C1117.0 120.7 1118.6 121.0 1120.3 121.3C1121.9 121.6 1123.6 121.8 1125.3 122.1C1126.9 122.4 1128.6 122.6 1130.2 122.9C1131.9 123.1 1133.5 123.4 1135.2 123.6C1136.9 123.9 1138.5 124.1 1140.2 124.4C1141.8 124.6 1143.5 124.8 1145.1 125.0C1146.8 125.3 1148.5 125.5 1150.1 125.7C1151.8 125.9 1153.4 126.1 1155.1 126.3C1156.8 126.5 1158.4 126.7 1160.1 126.9C1161.7 127.1 1163.4 127.2 1165.1 127.4C1166.7 127.6 1168.4 127.7 1170.1 127.9C1171.7 128.1 1173.4 128.2 1175.0 128.4C1176.7 128.5 1178.4 128.7 1180.0 128.8C1181.7 128.9 1183.4 129.1 1185.0 129.2C1186.7 129.3 1188.4 129.4 1190.0 129.5C1191.7 129.6 1193.4 129.7 1195.0 129.8C1196.7 129.9 1198.4 130.0 1200.0 130.1C1201.7 130.2 1203.4 130.2 1205.1 130.3C1206.7 130.4 1208.4 130.4 1210.1 130.5C1211.7 130.5 1213.4 130.6 1215.1 130.6C1216.8 130.7 1218.4 130.7 1220.1 130.7C1221.8 130.7 1223.5 130.7 1225.1 130.8C1226.8 130.8 1228.5 130.8 1230.2 130.8C1231.8 130.8 1233.5 130.7 1235.2 130.7C1236.9 130.7 1238.6 130.7 1240.2 130.6C1241.9 130.6 1243.6 130.6 1245.3 130.5C1247.0 130.5 1248.7 130.4 1250.3 130.3C1252.0 130.3 1254.6 130.1 1255.4 130.1C1255.2 130.9 1254.8 133.3 1254.4 134.9C1254.1 136.5 1253.8 138.2 1253.4 139.8C1253.1 141.4 1252.8 143.0 1252.4 144.6C1252.1 146.3 1251.7 147.9 1251.4 149.5C1251.0 151.1 1250.7 152.8 1250.3 154.4C1250.0 156.0 1249.6 157.7 1249.2 159.3C1248.9 160.9 1248.5 162.6 1248.1 164.2C1247.7 165.9 1247.3 167.5 1246.9 169.1C1246.5 170.8 1246.1 172.4 1245.7 174.0C1245.3 175.7 1244.9 177.3 1244.5 178.9C1244.1 180.6 1243.6 182.2 1243.2 183.8C1242.8 185.5 1242.3 187.1 1241.9 188.7C1241.4 190.4 1241.0 192.0 1240.5 193.6C1240.0 195.2 1239.5 196.8 1239.0 198.5C1238.5 200.1 1238.0 201.7 1237.5 203.3C1237.0 204.9 1236.5 206.5 1236.0 208.1C1235.4 209.7 1234.9 211.3 1234.3 212.9C1233.8 214.5 1233.2 216.1 1232.7 217.7C1232.1 219.3 1231.5 220.8 1230.9 222.4C1230.3 224.0 1229.7 225.6 1229.0 227.1C1228.4 228.7 1227.8 230.2 1227.1 231.8C1226.5 233.3 1225.8 234.9 1225.1 236.4C1224.5 237.9 1223.8 239.5 1223.0 241.0C1222.3 242.5 1221.6 244.0 1220.9 245.5C1220.1 247.0 1219.4 248.5 1218.6 250.0C1217.9 251.5 1217.1 252.9 1216.3 254.4C1215.5 255.9 1214.7 257.3 1213.8 258.8C1213.0 260.2 1212.2 261.7 1211.3 263.1C1210.5 264.6 1209.6 266.0 1208.7 267.4C1207.8 268.8 1206.9 270.2 1206.0 271.6C1205.1 273.0 1204.2 274.4 1203.3 275.8C1202.3 277.1 1201.4 278.5 1200.4 279.8C1199.4 281.2 1198.5 282.5 1197.5 283.9C1196.5 285.2 1195.5 286.5 1194.4 287.8C1193.4 289.1 1192.4 290.4 1191.3 291.7C1190.3 293.0 1189.2 294.3 1188.2 295.6C1187.1 296.8 1186.0 298.1 1184.9 299.3C1183.8 300.6 1182.7 301.8 1181.6 303.0C1180.4 304.2 1179.3 305.4 1178.1 306.6C1177.0 307.8 1175.8 309.0 1174.6 310.2C1173.5 311.3 1172.3 312.5 1171.1 313.6C1169.9 314.8 1168.7 315.9 1167.4 317.0C1166.2 318.1 1165.0 319.3 1163.7 320.3C1162.5 321.4 1161.2 322.5 1159.9 323.6C1158.6 324.6 1157.3 325.7 1156.0 326.7C1154.7 327.8 1153.4 328.8 1152.1 329.8C1150.8 330.8 1149.5 331.8 1148.1 332.8C1146.8 333.7 1145.4 334.7 1144.0 335.7C1142.7 336.6 1141.3 337.5 1139.9 338.5C1138.5 339.4 1137.1 340.3 1135.7 341.2C1134.3 342.1 1132.8 342.9 1131.4 343.8C1129.9 344.7 1128.5 345.5 1127.0 346.3C1125.6 347.1 1124.1 348.0 1122.6 348.8C1121.1 349.6 1119.7 350.3 1118.2 351.1C1116.7 351.9 1115.2 352.6 1113.6 353.4C1112.1 354.1 1110.6 354.9 1109.1 355.6C1107.5 356.3 1106.0 357.1 1104.5 357.8C1102.9 358.5 1101.4 359.2 1099.8 359.9C1098.3 360.6 1096.7 361.3 1095.2 362.0C1093.6 362.7 1092.1 363.3 1090.5 364.0C1089.0 364.7 1087.4 365.4 1085.8 366.1C1084.3 366.7 1082.7 367.4 1081.2 368.1C1079.6 368.7 1078.0 369.4 1076.5 370.1C1074.9 370.8 1073.4 371.4 1071.8 372.1C1070.3 372.8 1068.7 373.5 1067.2 374.2C1065.6 374.9 1064.1 375.5 1062.5 376.2C1061.0 376.9 1059.4 377.6 1057.9 378.3C1056.4 379.1 1054.9 379.8 1053.3 380.5C1051.8 381.2 1050.3 381.9 1048.8 382.7C1047.3 383.4 1045.8 384.2 1044.3 385.0C1042.9 385.7 1041.4 386.5 1039.9 387.3C1038.5 388.1 1037.0 388.9 1035.6 389.7C1034.1 390.5 1032.7 391.3 1031.3 392.2C1029.8 393.0 1028.4 393.9 1027.1 394.8C1025.7 395.7 1024.3 396.6 1022.9 397.5C1021.6 398.4 1020.2 399.4 1018.9 400.3C1017.5 401.3 1016.2 402.3 1014.9 403.3C1013.6 404.3 1012.3 405.3 1011.1 406.3C1009.8 407.3 1008.5 408.4 1007.3 409.5C1006.0 410.6 1004.8 411.6 1003.6 412.8C1002.4 413.9 1001.2 415.0 1000.0 416.1C998.8 417.3 997.7 418.4 996.5 419.6C995.3 420.8 994.2 422.0 993.1 423.2C991.9 424.4 990.8 425.6 989.7 426.9C988.6 428.1 987.5 429.4 986.4 430.6C985.3 431.9 984.3 433.2 983.2 434.4C982.2 435.7 981.1 437.0 980.1 438.3C979.0 439.7 978.0 441.0 977.0 442.3C976.0 443.7 975.0 445.0 974.0 446.4C973.0 447.7 972.0 449.1 971.1 450.5C970.1 451.9 969.1 453.2 968.2 454.6C967.2 456.0 966.3 457.4 965.4 458.8C964.5 460.3 963.5 461.7 962.6 463.1C961.7 464.5 960.8 466.0 959.9 467.4C959.0 468.9 958.1 470.3 957.3 471.8C956.4 473.2 955.5 474.7 954.7 476.1C953.8 477.6 953.0 479.1 952.1 480.5C951.3 482.0 950.4 483.5 949.6 485.0C948.8 486.4 948.0 487.9 947.2 489.4C946.3 490.9 945.5 492.4 944.7 493.9C943.9 495.4 943.1 496.9 942.3 498.3C941.6 499.8 940.8 501.3 940.0 502.8C939.2 504.3 938.5 505.8 937.7 507.3C936.9 508.8 936.2 510.3 935.4 511.8C934.7 513.4 933.9 514.9 933.2 516.4C932.5 517.9 931.7 519.4 931.0 520.9C930.3 522.4 929.5 523.9 928.8 525.5C928.1 527.0 927.4 528.5 926.7 530.0C926.0 531.5 925.3 533.1 924.6 534.6C923.9 536.1 923.2 537.6 922.5 539.2C921.8 540.7 921.1 542.2 920.4 543.8C919.8 545.3 919.1 546.8 918.4 548.4C917.7 549.9 917.1 551.4 916.4 553.0C915.7 554.5 915.1 556.0 914.4 557.6C913.8 559.1 913.1 560.7 912.5 562.2C911.8 563.7 911.2 565.3 910.5 566.8C909.9 568.4 909.3 569.9 908.6 571.5C908.0 573.0 907.4 574.5 906.7 576.1C906.1 577.6 905.5 579.2 904.8 580.7C904.2 582.3 903.6 583.8 903.0 585.4C902.4 586.9 901.7 588.5 901.1 590.0C900.5 591.6 899.9 593.2 899.3 594.7C898.7 596.3 898.1 597.8 897.5 599.4C896.9 600.9 896.2 602.5 895.6 604.0C895.0 605.6 894.4 607.2 893.8 608.7C893.2 610.3 892.6 611.8 892.0 613.4C891.4 614.9 890.8 616.5 890.2 618.1C889.7 619.6 889.1 621.2 888.5 622.7C887.9 624.3 887.3 625.9 886.7 627.4C886.1 629.0 885.5 630.5 884.9 632.1C884.3 633.6 883.7 635.2 883.1 636.8C882.5 638.3 881.9 639.9 881.4 641.4C880.8 643.0 880.2 644.6 879.6 646.1C879.0 647.7 878.4 649.2 877.8 650.8C877.2 652.4 876.6 653.9 876.0 655.5C875.4 657.0 874.8 658.6 874.2 660.1C873.6 661.7 873.0 663.3 872.4 664.8C871.8 666.4 871.2 667.9 870.6 669.5C870.0 671.0 869.4 672.6 868.8 674.2C868.2 675.7 867.6 677.3 867.0 678.8C866.4 680.4 865.8 681.9 865.2 683.5C864.6 685.0 864.0 686.6 863.3 688.1C862.7 689.7 862.1 691.2 861.5 692.8C860.9 694.3 860.2 695.9 859.6 697.4C859.0 699.0 858.4 700.5 857.7 702.0C857.1 703.6 856.5 705.1 855.8 706.7C855.2 708.2 854.6 709.8 853.9 711.3C853.3 712.8 852.6 714.4 852.0 715.9C851.3 717.4 850.7 719.0 850.0 720.5C849.4 722.0 848.7 723.6 848.0 725.1C847.4 726.6 846.7 728.2 846.0 729.7C845.4 731.2 844.7 732.7 844.0 734.3C843.3 735.8 842.6 737.3 841.9 738.8C841.3 740.4 840.6 741.9 839.9 743.4C839.2 744.9 838.5 746.4 837.8 748.0C837.0 749.5 836.3 751.0 835.6 752.5C834.9 754.0 834.2 755.5 833.4 757.0C832.7 758.5 832.0 760.0 831.2 761.5C830.5 763.0 829.7 764.5 829.0 766.0C828.2 767.5 827.5 769.0 826.7 770.5C826.0 772.0 825.2 773.5 824.4 775.0C823.6 776.5 822.8 778.0 822.0 779.4C821.2 780.9 820.4 782.4 819.6 783.9C818.7 785.3 817.9 786.8 817.0 788.3C816.1 789.7 815.3 791.2 814.4 792.6C813.5 794.1 812.5 795.5 811.6 796.9C810.7 798.4 809.7 799.8 808.7 801.2C807.7 802.6 806.7 804.0 805.7 805.4C804.6 806.8 803.6 808.2 802.4 809.3C801.3 810.5 800.1 811.7 798.8 812.5C797.5 813.3 796.0 814.0 794.6 814.3C793.1 814.7 791.5 814.7 790.0 814.5C788.5 814.2 787.0 813.6 785.6 812.7C784.2 811.9 782.9 810.7 781.7 809.5C780.4 808.3 779.3 806.8 778.3 805.4C777.2 804.0 776.3 802.5 775.4 801.0C774.5 799.5 773.8 798.0 773.1 796.5C772.3 795.0 771.7 793.4 771.1 791.9C770.5 790.4 769.9 788.8 769.4 787.3C768.8 785.7 768.3 784.1 767.8 782.6C767.3 781.0 766.8 779.4 766.3 777.8C765.8 776.2 765.4 774.6 764.9 773.0C764.4 771.4 764.0 769.8 763.5 768.2C763.1 766.6 762.6 765.0 762.2 763.4C761.7 761.7 761.3 760.1 760.9 758.5C760.5 756.9 760.1 755.2 759.7 753.6C759.3 752.0 758.9 750.3 758.5 748.7C758.1 747.1 757.7 745.4 757.3 743.8C756.9 742.1 756.5 740.5 756.2 738.9C755.8 737.2 755.4 735.6 755.1 733.9C754.7 732.3 754.3 730.7 754.0 729.0C753.6 727.4 753.3 725.8 752.9 724.1C752.5 722.5 752.2 720.8 751.9 719.2C751.5 717.5 751.2 715.9 750.8 714.3C750.5 712.6 750.1 711.0 749.8 709.3C749.5 707.7 749.2 706.1 748.8 704.4C748.5 702.8 748.2 701.1 747.9 699.5C747.5 697.9 747.2 696.2 746.9 694.6C746.6 692.9 746.3 691.3 746.0 689.6C745.7 688.0 745.4 686.3 745.1 684.7C744.7 683.1 744.4 681.4 744.1 679.8C743.8 678.1 743.6 676.5 743.3 674.8C743.0 673.2 742.7 671.6 742.4 669.9C742.1 668.3 741.8 666.6 741.5 665.0C741.2 663.3 740.9 661.7 740.7 660.0C740.4 658.4 740.1 656.7 739.8 655.1C739.5 653.5 739.3 651.8 739.0 650.2C738.7 648.5 738.4 646.9 738.2 645.2C737.9 643.6 737.6 641.9 737.3 640.3C737.1 638.6 736.8 637.0 736.5 635.3C736.3 633.7 736.0 632.0 735.7 630.4C735.5 628.8 735.2 627.1 734.9 625.5C734.7 623.8 734.4 622.2 734.1 620.5C733.9 618.9 733.6 617.2 733.4 615.6C733.1 613.9 732.8 612.3 732.6 610.6C732.3 609.0 732.1 607.3 731.8 605.7C731.5 604.0 731.3 602.4 731.0 600.7C730.7 599.1 730.5 597.4 730.2 595.8C730.0 594.1 729.7 592.5 729.4 590.8C729.2 589.2 728.9 587.5 728.7 585.9C728.4 584.2 728.1 582.6 727.9 580.9C727.6 579.3 727.4 577.6 727.1 576.0C726.8 574.3 726.6 572.7 726.3 571.0C726.0 569.4 725.8 567.7 725.5 566.1C725.2 564.4 725.0 562.8 724.7 561.1C724.4 559.5 724.2 557.8 723.9 556.1C723.6 554.5 723.4 552.8 723.1 551.2C722.8 549.5 722.5 547.9 722.3 546.2C722.0 544.6 721.7 542.9 721.4 541.3C721.1 539.6 720.9 538.0 720.6 536.3C720.3 534.7 720.0 533.0 719.7 531.4C719.4 529.7 719.2 528.1 718.9 526.4C718.6 524.7 718.3 523.1 718.0 521.4C717.7 519.8 717.4 518.1 717.1 516.5C716.8 514.8 716.5 513.2 716.2 511.5C715.9 509.9 715.6 508.2 715.3 506.6C715.0 504.9 714.7 503.3 714.4 501.6C714.0 499.9 713.7 498.3 713.4 496.6C713.1 495.0 712.8 493.3 712.4 491.7C712.1 490.0 711.8 488.4 711.5 486.7C711.1 485.1 710.8 483.4 710.5 481.7C710.1 480.1 709.8 478.4 709.4 476.8C709.1 475.1 708.7 473.5 708.4 471.8C708.0 470.2 707.7 468.5 707.3 466.8C707.0 465.2 706.6 463.5 706.2 461.9C705.9 460.2 705.5 458.6 705.1 456.9C704.7 455.3 704.3 453.7 703.9 452.0C703.4 450.4 703.0 448.8 702.5 447.2C702.0 445.6 701.5 444.0 701.0 442.5C700.4 440.9 699.9 439.4 699.2 437.8C698.6 436.3 697.9 434.8 697.2 433.4C696.5 431.9 695.8 430.5 694.9 429.1C694.1 427.7 693.2 426.3 692.3 425.0C691.3 423.7 690.3 422.4 689.3 421.2C688.2 419.9 687.0 418.7 685.9 417.6C684.7 416.4 683.4 415.3 682.1 414.3C680.8 413.2 679.5 412.2 678.1 411.2C676.7 410.3 675.2 409.4 673.8 408.5C672.3 407.7 670.8 406.9 669.3 406.1C667.8 405.4 666.2 404.7 664.7 404.1C663.1 403.5 661.5 402.9 659.9 402.4C658.3 401.9 656.7 401.5 655.1 401.1C653.5 400.7 651.9 400.3 650.2 400.0C648.6 399.7 646.9 399.4 645.3 399.2C643.6 399.0 641.9 398.8 640.3 398.6C638.6 398.4 636.9 398.3 635.2 398.1C633.6 398.0 631.9 397.9 630.2 397.8C628.5 397.7 626.8 397.6 625.1 397.5C623.5 397.4 621.8 397.3 620.1 397.3C618.4 397.2 616.8 397.2 615.1 397.1C613.4 397.1 611.7 397.0 610.1 397.0C608.4 397.0 606.7 396.9 605.0 396.9C603.4 396.9 601.7 396.9 600.0 396.9C598.3 396.9 596.7 396.9 595.0 396.9C593.3 396.9 591.7 396.9 590.0 396.9C588.3 396.9 586.7 396.9 585.0 396.9C583.3 397.0 581.6 397.0 580.0 397.0C578.3 397.0 576.6 397.1 575.0 397.1C573.3 397.1 571.6 397.2 569.9 397.2C568.3 397.3 566.6 397.3 564.9 397.3C563.3 397.4 561.6 397.4 559.9 397.5C558.2 397.5 556.6 397.6 554.9 397.6C553.2 397.7 551.6 397.8 549.9 397.8C548.2 397.9 546.5 398.0 544.9 398.0C543.2 398.1 541.5 398.2 539.9 398.2C538.2 398.3 536.5 398.4 534.8 398.4C533.2 398.5 531.5 398.6 529.8 398.7C528.2 398.8 526.5 398.8 524.8 398.9C523.1 399.0 521.5 399.1 519.8 399.2C518.1 399.3 516.5 399.4 514.8 399.5C513.1 399.6 511.4 399.7 509.8 399.8C508.1 399.9 506.4 400.0 504.7 400.1C503.1 400.2 501.4 400.3 499.7 400.4C498.1 400.5 496.4 400.6 494.7 400.7C493.0 400.8 491.4 400.9 489.7 401.0C488.0 401.1 486.4 401.3 484.7 401.4C483.0 401.5 481.3 401.6 479.7 401.7C478.0 401.8 476.3 402.0 474.7 402.1C473.0 402.2 471.3 402.3 469.6 402.4C468.0 402.6 466.3 402.7 464.6 402.8C463.0 402.9 461.3 403.1 459.6 403.2C457.9 403.3 456.3 403.5 454.6 403.6C452.9 403.7 451.3 403.8 449.6 404.0C447.9 404.1 446.2 404.2 444.6 404.4C442.9 404.5 441.2 404.6 439.6 404.8C437.9 404.9 436.2 405.0 434.5 405.2C432.9 405.3 431.2 405.5 429.5 405.6C427.9 405.7 426.2 405.9 424.5 406.0C422.9 406.1 421.2 406.3 419.5 406.4C417.8 406.6 416.2 406.7 414.5 406.8C412.8 407.0 411.2 407.1 409.5 407.3C407.8 407.4 406.2 407.5 404.5 407.7C402.8 407.8 401.1 408.0 399.5 408.1C397.8 408.3 396.1 408.4 394.5 408.5C392.8 408.7 391.1 408.8 389.5 409.0C387.8 409.1 386.1 409.2 384.5 409.4C382.8 409.5 381.1 409.7 379.5 409.8C377.8 409.9 376.1 410.1 374.5 410.2C372.8 410.4 371.1 410.5 369.4 410.6C367.8 410.8 366.1 410.9 364.4 411.0C362.8 411.2 361.1 411.3 359.4 411.5C357.8 411.6 356.1 411.7 354.4 411.9C352.8 412.0 351.1 412.1 349.5 412.3C347.8 412.4 346.1 412.5 344.5 412.7C342.8 412.8 341.1 412.9 339.5 413.1C337.8 413.2 336.1 413.3 334.5 413.4C332.8 413.6 331.1 413.7 329.5 413.8C327.8 413.9 326.1 414.1 324.5 414.2C322.8 414.3 321.2 414.5 319.5 414.6C317.8 414.7 316.2 414.8 314.5 415.0C312.8 415.1 311.2 415.3 309.5 415.4C307.8 415.5 306.2 415.7 304.5 415.8C302.8 416.0 301.2 416.1 299.5 416.3C297.8 416.4 296.2 416.6 294.5 416.7C292.9 416.9 291.2 417.1 289.5 417.2C287.9 417.4 286.2 417.6 284.5 417.8C282.8 418.0 281.2 418.2 279.5 418.4C277.8 418.6 276.2 418.8 274.5 419.0C272.8 419.2 271.2 419.5 269.5 419.7C267.8 419.9 266.1 420.2 264.5 420.4C262.8 420.7 261.1 420.9 259.4 421.2C257.8 421.5 256.1 421.8 254.4 422.1C252.8 422.4 251.1 422.7 249.4 423.1C247.8 423.4 246.1 423.8 244.5 424.2C242.9 424.6 241.2 425.0 239.6 425.5C238.0 425.9 236.4 426.4 234.8 427.0C233.3 427.5 231.7 428.1 230.2 428.7C228.6 429.3 227.1 429.9 225.6 430.6C224.1 431.3 222.7 432.1 221.2 432.9C219.8 433.7 218.4 434.5 217.0 435.4C215.7 436.3 214.3 437.3 213.0 438.3C211.7 439.3 210.4 440.3 209.1 441.4C207.9 442.5 206.7 443.6 205.5 444.8C204.3 446.0 203.1 447.2 201.9 448.4C200.8 449.6 199.7 450.9 198.6 452.2C197.5 453.5 196.5 454.9 195.4 456.2C194.4 457.6 193.4 458.9 192.4 460.3C191.4 461.7 190.5 463.1 189.6 464.6C188.6 466.0 187.7 467.4 186.9 468.9C186.0 470.3 185.1 471.8 184.3 473.2C183.4 474.7 182.6 476.1 181.8 477.6C181.0 479.1 180.2 480.5 179.4 482.0C178.6 483.4 177.8 484.9 177.0 486.3C176.1 487.8 175.3 489.2 174.5 490.6C173.7 492.0 172.8 493.4 172.0 494.8C171.1 496.2 170.2 497.5 169.3 498.9C168.4 500.2 167.4 501.5 166.5 502.8C165.5 504.0 163.9 505.9 163.4 506.5" stroke="#E2613F" stroke-width="3.6" stroke-linecap="round" stroke-dasharray="0.1 7.5"/>
<path d="M164.1 573.1C164.2 572.3 164.3 569.8 164.5 568.1C164.6 566.5 164.7 564.8 164.8 563.1C165.0 561.5 165.1 559.8 165.3 558.1C165.4 556.5 165.6 554.8 165.7 553.1C165.9 551.5 166.1 549.8 166.2 548.1C166.4 546.5 166.6 544.8 166.8 543.1C167.0 541.5 167.2 539.8 167.4 538.1C167.6 536.5 167.8 534.8 168.0 533.1C168.2 531.5 168.4 529.8 168.6 528.1C168.9 526.5 169.1 524.8 169.3 523.1C169.6 521.5 169.8 519.8 170.1 518.1C170.3 516.5 170.6 514.8 170.8 513.2C171.1 511.5 171.4 509.8 171.6 508.2C171.9 506.5 172.2 504.9 172.5 503.2C172.8 501.6 173.1 499.9 173.4 498.3C173.7 496.6 174.0 495.0 174.3 493.3C174.6 491.7 174.9 490.0 175.3 488.4C175.6 486.7 175.9 485.1 176.3 483.4C176.6 481.8 176.9 480.2 177.3 478.5C177.7 476.9 178.0 475.3 178.4 473.6C178.7 472.0 179.1 470.4 179.5 468.8C179.9 467.1 180.3 465.5 180.6 463.9C181.0 462.3 181.4 460.7 181.8 459.0C182.3 457.4 182.7 455.8 183.1 454.2C183.5 452.6 183.9 451.0 184.4 449.4C184.8 447.8 185.2 446.2 185.7 444.6C186.1 443.0 186.6 441.4 187.1 439.8C187.5 438.2 188.0 436.6 188.5 435.0C189.0 433.4 189.5 431.8 190.0 430.3C190.5 428.7 191.0 427.1 191.5 425.5C192.0 423.9 192.6 422.3 193.1 420.7C193.7 419.2 194.2 417.6 194.8 416.0C195.3 414.4 195.9 412.8 196.5 411.2C197.1 409.7 197.7 408.1 198.3 406.5C198.9 404.9 199.5 403.3 200.1 401.8C200.7 400.2 201.4 398.6 202.0 397.0C202.7 395.5 203.3 393.9 204.0 392.3C204.7 390.8 205.4 389.2 206.2 387.7C206.9 386.1 207.6 384.6 208.4 383.1C209.2 381.6 210.1 380.1 210.9 378.7C211.8 377.3 212.7 375.8 213.6 374.5C214.6 373.1 215.6 371.7 216.6 370.4C217.6 369.1 218.7 367.8 219.8 366.6C221.0 365.4 222.2 364.2 223.4 363.1C224.6 361.9 225.9 360.9 227.2 359.9C228.6 358.9 229.9 357.9 231.3 357.0C232.7 356.2 234.1 355.4 235.6 354.6C237.0 353.9 238.5 353.3 240.0 352.7C241.5 352.1 243.0 351.6 244.6 351.2C246.1 350.8 247.7 350.5 249.3 350.2C250.8 349.9 252.4 349.6 254.0 349.5C255.7 349.3 257.3 349.1 258.9 349.1C260.6 349.0 262.2 348.9 263.9 348.9C265.5 348.9 267.2 348.9 268.9 349.0C270.6 349.0 272.3 349.1 274.0 349.2C275.7 349.3 277.4 349.4 279.1 349.5C280.8 349.7 282.5 349.8 284.2 349.9C285.9 350.0 287.6 350.2 289.4 350.3C291.1 350.4 292.8 350.5 294.5 350.6C296.2 350.7 297.9 350.8 299.6 350.9C301.3 350.9 303.0 351.0 304.7 351.0C306.4 351.0 308.1 351.0 309.7 351.0C311.4 350.9 313.1 350.9 314.8 350.8C316.5 350.8 318.1 350.7 319.8 350.6C321.5 350.5 323.1 350.4 324.8 350.3C326.4 350.2 328.1 350.0 329.8 349.9C331.4 349.7 333.1 349.6 334.7 349.4C336.4 349.2 338.0 349.0 339.7 348.8C341.3 348.6 343.0 348.4 344.6 348.2C346.3 348.0 347.9 347.8 349.5 347.6C351.2 347.3 352.8 347.1 354.5 346.9C356.1 346.6 357.8 346.4 359.4 346.1C361.1 345.9 362.7 345.6 364.3 345.4C366.0 345.1 367.6 344.9 369.3 344.6C370.9 344.3 372.6 344.1 374.2 343.8C375.9 343.6 377.5 343.3 379.2 343.1C380.8 342.8 382.5 342.5 384.1 342.3C385.8 342.0 387.4 341.8 389.1 341.5C390.7 341.3 392.4 341.0 394.1 340.8C395.7 340.5 397.4 340.3 399.0 340.1C400.7 339.8 402.4 339.6 404.0 339.3C405.7 339.0 407.3 338.8 409.0 338.5C410.7 338.3 412.3 338.0 414.0 337.8C415.7 337.5 417.3 337.2 419.0 337.0C420.6 336.7 422.3 336.4 424.0 336.2C425.6 335.9 427.3 335.6 428.9 335.3C430.6 335.1 432.3 334.8 433.9 334.5C435.6 334.2 437.2 333.9 438.9 333.6C440.5 333.3 442.2 333.0 443.8 332.7C445.5 332.4 447.1 332.1 448.8 331.7C450.4 331.4 452.1 331.1 453.7 330.7C455.3 330.4 457.0 330.1 458.6 329.7C460.3 329.4 461.9 329.0 463.5 328.7C465.2 328.3 466.8 328.0 468.5 327.6C470.1 327.3 471.7 326.9 473.4 326.6C475.0 326.3 476.7 325.9 478.3 325.6C479.9 325.3 481.6 325.0 483.2 324.6C484.9 324.3 486.5 324.0 488.2 323.7C489.8 323.4 491.5 323.2 493.1 322.9C494.8 322.6 496.4 322.4 498.1 322.1C499.7 321.9 501.4 321.7 503.1 321.5C504.7 321.3 506.4 321.1 508.1 320.9C509.7 320.8 511.4 320.7 513.1 320.6C514.7 320.5 516.4 320.5 518.1 320.4C519.7 320.4 521.4 320.5 523.1 320.5C524.7 320.6 526.4 320.7 528.0 320.9C529.7 321.0 531.3 321.2 533.0 321.5C534.6 321.7 536.3 322.0 537.9 322.3C539.6 322.6 541.2 322.9 542.8 323.2C544.5 323.6 546.1 323.9 547.8 324.3C549.4 324.7 551.0 325.1 552.7 325.4C554.3 325.8 556.0 326.2 557.6 326.6C559.2 327.0 560.9 327.5 562.5 327.9C564.1 328.3 565.8 328.7 567.4 329.0C569.1 329.4 570.7 329.8 572.3 330.2C574.0 330.5 575.6 330.9 577.3 331.2C578.9 331.5 580.6 331.8 582.2 332.1C583.8 332.4 585.5 332.6 587.1 332.9C588.8 333.1 590.4 333.3 592.1 333.6C593.7 333.8 595.4 334.0 597.0 334.2C598.7 334.3 600.3 334.5 602.0 334.7C603.7 334.8 605.3 335.0 607.0 335.1C608.6 335.2 610.3 335.3 611.9 335.4C613.6 335.5 615.3 335.6 616.9 335.7C618.6 335.8 620.3 335.8 621.9 335.9C623.6 335.9 625.2 336.0 626.9 336.0C628.6 336.0 630.2 336.0 631.9 336.0C633.6 336.0 635.2 336.0 636.9 336.0C638.6 336.0 640.3 336.0 641.9 336.0C643.6 335.9 645.3 335.9 646.9 335.8C648.6 335.8 650.3 335.7 652.0 335.6C653.6 335.6 655.3 335.5 657.0 335.4C658.7 335.3 660.3 335.2 662.0 335.1C663.7 335.0 665.4 334.9 667.0 334.8C668.7 334.7 670.4 334.6 672.1 334.5C673.7 334.4 675.4 334.2 677.1 334.1C678.8 334.0 680.4 333.8 682.1 333.7C683.8 333.5 685.5 333.4 687.2 333.2C688.8 333.1 690.5 332.9 692.2 332.7C693.9 332.6 695.5 332.4 697.2 332.2C698.9 332.1 700.6 331.9 702.2 331.7C703.9 331.6 705.6 331.4 707.3 331.2C708.9 331.0 710.6 330.9 712.3 330.7C714.0 330.5 715.6 330.3 717.3 330.1C719.0 329.9 720.7 329.8 722.3 329.6C724.0 329.4 725.7 329.2 727.4 329.0C729.0 328.9 730.7 328.7 732.4 328.5C734.0 328.3 735.7 328.1 737.4 328.0C739.0 327.8 740.7 327.6 742.4 327.4C744.1 327.3 745.7 327.1 747.4 326.9C749.0 326.7 750.7 326.6 752.4 326.4C754.0 326.3 755.7 326.1 757.4 325.9C759.0 325.8 760.7 325.6 762.3 325.5C764.0 325.3 765.7 325.2 767.3 325.1C769.0 324.9 770.6 324.8 772.3 324.7C773.9 324.5 775.6 324.4 777.2 324.3C778.9 324.1 780.6 324.0 782.2 323.9C783.9 323.8 785.5 323.7 787.2 323.6C788.8 323.4 790.5 323.3 792.1 323.2C793.8 323.1 795.5 323.0 797.1 322.9C798.8 322.8 800.4 322.7 802.1 322.6C803.8 322.5 805.4 322.4 807.1 322.3C808.7 322.1 810.4 322.0 812.1 321.9C813.7 321.8 815.4 321.7 817.1 321.6C818.8 321.5 820.4 321.4 822.1 321.3C823.8 321.2 825.5 321.1 827.1 321.0C828.8 320.9 830.5 320.8 832.2 320.7C833.9 320.6 835.6 320.4 837.2 320.3C838.9 320.2 840.6 320.1 842.3 320.0C844.0 319.8 845.7 319.7 847.4 319.6C849.1 319.4 850.8 319.3 852.5 319.1C854.1 319.0 855.8 318.8 857.5 318.6C859.2 318.4 860.9 318.3 862.6 318.1C864.3 317.9 865.9 317.7 867.6 317.5C869.3 317.2 871.0 317.0 872.6 316.8C874.3 316.5 876.0 316.3 877.6 316.0C879.3 315.7 881.0 315.4 882.6 315.1C884.3 314.8 885.9 314.5 887.6 314.2C889.2 313.8 890.8 313.5 892.5 313.1C894.1 312.7 895.7 312.3 897.3 311.9C899.0 311.5 900.6 311.1 902.2 310.6C903.8 310.2 905.4 309.7 906.9 309.2C908.5 308.7 910.1 308.2 911.7 307.6C913.2 307.1 914.8 306.5 916.4 305.9C917.9 305.3 919.5 304.7 921.0 304.0C922.5 303.4 924.0 302.7 925.6 302.0C927.1 301.4 928.6 300.6 930.1 299.9C931.6 299.2 933.1 298.5 934.6 297.7C936.0 296.9 937.5 296.1 939.0 295.3C940.4 294.6 941.9 293.7 943.4 292.9C944.8 292.1 946.2 291.2 947.7 290.4C949.1 289.5 950.5 288.6 952.0 287.7C953.4 286.8 954.8 285.9 956.2 285.0C957.6 284.1 959.0 283.2 960.4 282.2C961.8 281.3 963.2 280.3 964.5 279.4C965.9 278.4 967.3 277.5 968.6 276.5C970.0 275.5 971.3 274.5 972.7 273.5C974.0 272.5 975.4 271.5 976.7 270.5C978.0 269.5 979.4 268.5 980.7 267.4C982.0 266.4 983.3 265.4 984.6 264.3C985.9 263.3 987.2 262.2 988.5 261.2C989.8 260.1 991.1 259.1 992.4 258.0C993.7 256.9 994.9 255.9 996.2 254.8C997.5 253.7 998.8 252.6 1000.0 251.5C1001.3 250.4 1002.5 249.3 1003.8 248.2C1005.0 247.1 1006.3 246.0 1007.5 244.9C1008.8 243.8 1010.0 242.7 1011.2 241.5C1012.5 240.4 1013.7 239.3 1014.9 238.1C1016.2 237.0 1017.4 235.9 1018.6 234.7C1019.8 233.6 1021.0 232.4 1022.2 231.3C1023.5 230.1 1024.7 229.0 1025.9 227.8C1027.1 226.7 1028.3 225.5 1029.5 224.3C1030.7 223.2 1031.9 222.0 1033.1 220.8C1034.3 219.7 1035.5 218.5 1036.6 217.3C1037.8 216.1 1039.0 214.9 1040.2 213.8C1041.4 212.6 1042.6 211.4 1043.8 210.2C1044.9 209.0 1046.1 207.8 1047.3 206.6C1048.5 205.4 1049.6 204.2 1050.8 203.1C1052.0 201.9 1053.2 200.7 1054.3 199.5C1055.5 198.3 1056.7 197.1 1057.9 195.9C1059.0 194.7 1060.2 193.5 1061.4 192.3C1062.5 191.1 1063.7 189.9 1064.9 188.7C1066.1 187.5 1067.2 186.3 1068.4 185.1C1069.6 183.9 1070.7 182.6 1071.9 181.4C1073.1 180.2 1074.3 179.0 1075.4 177.8C1076.6 176.6 1077.8 175.4 1078.9 174.2C1080.1 173.0 1081.3 171.8 1082.5 170.6C1083.6 169.4 1084.8 168.2 1086.0 167.1C1087.2 165.9 1088.4 164.7 1089.5 163.5C1090.7 162.3 1091.9 161.1 1093.1 159.9C1094.3 158.7 1095.5 157.5 1096.7 156.4C1097.9 155.2 1099.1 154.0 1100.3 152.8C1101.4 151.6 1102.6 150.5 1103.8 149.3C1105.1 148.1 1106.3 146.9 1107.5 145.8C1108.7 144.6 1109.9 143.5 1111.1 142.3C1112.3 141.1 1113.5 140.0 1114.8 138.8C1116.0 137.7 1117.2 136.5 1118.4 135.4C1119.7 134.3 1120.9 133.1 1122.1 132.0C1123.4 130.8 1124.6 129.7 1125.9 128.6C1127.1 127.5 1128.4 126.3 1129.6 125.2C1130.9 124.1 1132.1 123.0 1133.4 121.9C1134.7 120.8 1135.9 119.7 1137.2 118.6C1138.5 117.5 1139.7 116.4 1141.0 115.3C1142.3 114.2 1143.6 113.2 1144.9 112.1C1146.2 111.0 1147.4 110.0 1148.7 108.9C1150.0 107.8 1151.3 106.8 1152.7 105.7C1154.0 104.7 1155.3 103.6 1156.6 102.6C1157.9 101.6 1159.2 100.5 1160.5 99.5C1161.9 98.5 1163.2 97.5 1164.5 96.5C1165.9 95.4 1167.2 94.4 1168.5 93.4C1169.9 92.4 1171.2 91.5 1172.6 90.5C1173.9 89.5 1175.3 88.5 1176.7 87.5C1178.0 86.6 1179.4 85.6 1180.8 84.7C1182.1 83.7 1183.5 82.8 1184.9 81.8C1186.3 80.9 1187.7 80.0 1189.1 79.0C1190.5 78.1 1191.9 77.2 1193.3 76.3C1194.7 75.4 1196.1 74.5 1197.5 73.6C1198.9 72.7 1200.3 71.8 1201.7 71.0C1203.2 70.1 1204.6 69.2 1206.0 68.4C1207.5 67.5 1208.9 66.7 1210.3 65.8C1211.8 65.0 1213.2 64.2 1214.7 63.4C1216.2 62.5 1217.6 61.7 1219.1 60.9C1220.6 60.1 1222.0 59.3 1223.5 58.6C1225.0 57.8 1226.5 57.0 1228.0 56.3C1229.4 55.5 1230.9 54.8 1232.4 54.0C1233.9 53.3 1235.4 52.5 1237.0 51.8C1238.5 51.1 1240.0 50.4 1241.5 49.7C1243.0 49.0 1244.6 48.3 1246.1 47.6C1247.6 47.0 1249.2 46.3 1250.7 45.6C1252.3 45.0 1254.6 44.0 1255.4 43.7C1255.3 44.5 1255.2 47.0 1255.1 48.7C1254.9 50.4 1254.8 52.0 1254.6 53.7C1254.5 55.4 1254.3 57.1 1254.2 58.7C1254.0 60.4 1253.8 62.0 1253.7 63.7C1253.5 65.4 1253.3 67.0 1253.1 68.7C1252.9 70.4 1252.7 72.0 1252.5 73.7C1252.3 75.3 1252.1 77.0 1251.8 78.7C1251.6 80.3 1251.4 82.0 1251.1 83.6C1250.9 85.3 1250.7 86.9 1250.4 88.6C1250.2 90.3 1249.9 91.9 1249.6 93.6C1249.4 95.2 1249.1 96.9 1248.8 98.5C1248.5 100.2 1248.3 101.8 1248.0 103.5C1247.7 105.1 1247.4 106.8 1247.1 108.4C1246.8 110.1 1246.5 111.7 1246.2 113.4C1245.9 115.0 1245.6 116.7 1245.3 118.3C1245.0 120.0 1244.7 121.6 1244.4 123.3C1244.0 124.9 1243.7 126.6 1243.4 128.2C1243.1 129.8 1242.7 131.5 1242.4 133.1C1242.1 134.8 1241.8 136.4 1241.4 138.1C1241.1 139.7 1240.8 141.3 1240.4 143.0C1240.1 144.6 1239.8 146.3 1239.4 147.9C1239.1 149.5 1238.7 151.2 1238.4 152.8C1238.1 154.5 1237.7 156.1 1237.4 157.7C1237.0 159.4 1236.7 161.0 1236.3 162.7C1236.0 164.3 1235.7 165.9 1235.3 167.6C1235.0 169.2 1234.6 170.8 1234.3 172.5C1233.9 174.1 1233.6 175.7 1233.2 177.4C1232.8 179.0 1232.5 180.6 1232.1 182.3C1231.8 183.9 1231.4 185.5 1231.0 187.2C1230.7 188.8 1230.3 190.4 1230.0 192.1C1229.6 193.7 1229.2 195.3 1228.8 196.9C1228.5 198.6 1228.1 200.2 1227.7 201.8C1227.3 203.5 1227.0 205.1 1226.6 206.7C1226.2 208.3 1225.8 210.0 1225.4 211.6C1225.0 213.2 1224.6 214.8 1224.2 216.5C1223.8 218.1 1223.4 219.7 1223.0 221.3C1222.6 223.0 1222.2 224.6 1221.8 226.2C1221.4 227.8 1221.0 229.4 1220.6 231.1C1220.2 232.7 1219.7 234.3 1219.3 235.9C1218.9 237.5 1218.5 239.2 1218.0 240.8C1217.6 242.4 1217.2 244.0 1216.7 245.6C1216.3 247.2 1215.8 248.9 1215.4 250.5C1214.9 252.1 1214.5 253.7 1214.0 255.3C1213.6 256.9 1213.1 258.5 1212.7 260.2C1212.2 261.8 1211.7 263.4 1211.2 265.0C1210.8 266.6 1210.3 268.2 1209.8 269.8C1209.3 271.4 1208.8 273.0 1208.3 274.6C1207.8 276.2 1207.3 277.9 1206.8 279.5C1206.3 281.1 1205.8 282.7 1205.3 284.3C1204.7 285.9 1204.2 287.5 1203.7 289.0C1203.1 290.6 1202.6 292.2 1202.0 293.8C1201.5 295.4 1200.9 297.0 1200.3 298.6C1199.7 300.1 1199.2 301.7 1198.6 303.3C1198.0 304.9 1197.4 306.4 1196.8 308.0C1196.1 309.5 1195.5 311.1 1194.9 312.6C1194.2 314.2 1193.6 315.7 1192.9 317.3C1192.3 318.8 1191.6 320.3 1190.9 321.9C1190.3 323.4 1189.6 324.9 1188.8 326.4C1188.1 327.9 1187.4 329.4 1186.7 330.9C1185.9 332.4 1185.2 333.9 1184.4 335.4C1183.7 336.9 1182.9 338.3 1182.1 339.8C1181.3 341.2 1180.5 342.7 1179.7 344.1C1178.9 345.6 1178.0 347.0 1177.2 348.4C1176.3 349.9 1175.4 351.3 1174.5 352.7C1173.6 354.1 1172.7 355.5 1171.8 356.9C1170.9 358.2 1169.9 359.6 1169.0 361.0C1168.0 362.3 1167.1 363.7 1166.1 365.0C1165.1 366.4 1164.1 367.7 1163.0 369.0C1162.0 370.3 1161.0 371.6 1159.9 372.9C1158.9 374.2 1157.8 375.5 1156.7 376.8C1155.6 378.1 1154.6 379.4 1153.5 380.6C1152.4 381.9 1151.3 383.2 1150.1 384.4C1149.0 385.7 1147.9 386.9 1146.8 388.2C1145.6 389.4 1144.5 390.6 1143.3 391.9C1142.2 393.1 1141.0 394.3 1139.9 395.5C1138.7 396.8 1137.5 398.0 1136.3 399.2C1135.2 400.4 1134.0 401.6 1132.8 402.8C1131.6 404.0 1130.5 405.2 1129.3 406.4C1128.1 407.6 1126.9 408.7 1125.7 409.9C1124.5 411.1 1123.3 412.3 1122.1 413.5C1120.9 414.6 1119.7 415.8 1118.5 417.0C1117.3 418.2 1116.1 419.3 1114.9 420.5C1113.7 421.7 1112.5 422.8 1111.2 424.0C1110.0 425.2 1108.8 426.4 1107.6 427.5C1106.4 428.7 1105.2 429.8 1104.0 431.0C1102.8 432.2 1101.6 433.3 1100.4 434.5C1099.2 435.7 1097.9 436.8 1096.7 438.0C1095.5 439.2 1094.3 440.3 1093.1 441.5C1091.9 442.7 1090.7 443.9 1089.5 445.0C1088.3 446.2 1087.2 447.4 1086.0 448.6C1084.8 449.7 1083.6 450.9 1082.4 452.1C1081.2 453.3 1080.0 454.5 1078.9 455.7C1077.7 456.9 1076.5 458.0 1075.4 459.2C1074.2 460.4 1073.1 461.6 1071.9 462.9C1070.7 464.1 1069.6 465.3 1068.5 466.5C1067.3 467.7 1066.2 468.9 1065.1 470.2C1063.9 471.4 1062.8 472.6 1061.7 473.8C1060.6 475.1 1059.5 476.3 1058.4 477.6C1057.3 478.8 1056.2 480.1 1055.1 481.4C1054.1 482.6 1053.0 483.9 1051.9 485.2C1050.9 486.5 1049.8 487.7 1048.8 489.0C1047.7 490.3 1046.7 491.6 1045.7 493.0C1044.6 494.3 1043.6 495.6 1042.6 496.9C1041.6 498.2 1040.6 499.6 1039.6 500.9C1038.7 502.3 1037.7 503.6 1036.7 505.0C1035.7 506.3 1034.8 507.7 1033.8 509.0C1032.9 510.4 1031.9 511.8 1031.0 513.2C1030.0 514.6 1029.1 515.9 1028.2 517.3C1027.3 518.7 1026.3 520.1 1025.4 521.5C1024.5 522.9 1023.6 524.3 1022.7 525.7C1021.8 527.1 1020.9 528.6 1020.0 530.0C1019.1 531.4 1018.2 532.8 1017.3 534.2C1016.4 535.7 1015.6 537.1 1014.7 538.5C1013.8 540.0 1012.9 541.4 1012.1 542.8C1011.2 544.3 1010.3 545.7 1009.5 547.2C1008.6 548.6 1007.8 550.1 1006.9 551.5C1006.0 552.9 1005.2 554.4 1004.3 555.8C1003.5 557.3 1002.6 558.7 1001.8 560.2C1000.9 561.7 1000.1 563.1 999.2 564.6C998.4 566.0 997.5 567.5 996.7 568.9C995.8 570.4 995.0 571.8 994.1 573.3C993.3 574.7 992.4 576.2 991.6 577.7C990.7 579.1 989.9 580.6 989.0 582.0C988.2 583.5 987.3 584.9 986.5 586.4C985.6 587.8 984.8 589.3 983.9 590.7C983.0 592.1 982.2 593.6 981.3 595.0C980.4 596.5 979.6 597.9 978.7 599.3C977.8 600.8 977.0 602.2 976.1 603.6C975.2 605.1 974.3 606.5 973.4 607.9C972.5 609.3 971.7 610.8 970.8 612.2C969.9 613.6 969.0 615.0 968.1 616.4C967.2 617.9 966.3 619.3 965.4 620.7C964.6 622.1 963.7 623.5 962.8 624.9C961.9 626.3 961.0 627.8 960.1 629.2C959.2 630.6 958.3 632.0 957.5 633.4C956.6 634.8 955.7 636.2 954.8 637.7C954.0 639.1 953.1 640.5 952.2 641.9C951.3 643.3 950.5 644.7 949.6 646.2C948.8 647.6 947.9 649.0 947.1 650.4C946.2 651.9 945.4 653.3 944.5 654.7C943.7 656.1 942.9 657.6 942.0 659.0C941.2 660.5 940.4 661.9 939.6 663.3C938.8 664.8 938.0 666.2 937.1 667.7C936.3 669.1 935.5 670.5 934.7 672.0C933.9 673.4 933.1 674.9 932.2 676.3C931.4 677.7 930.6 679.2 929.7 680.6C928.9 682.0 928.0 683.5 927.1 684.9C926.2 686.3 925.3 687.7 924.4 689.1C923.5 690.5 922.5 691.9 921.5 693.3C920.6 694.7 919.6 696.1 918.5 697.4C917.5 698.8 916.4 700.1 915.4 701.5C914.3 702.8 913.1 704.2 912.0 705.5C910.8 706.8 909.6 708.1 908.4 709.3C907.1 710.6 905.9 711.8 904.6 713.0C903.3 714.2 902.0 715.3 900.7 716.4C899.3 717.5 897.9 718.5 896.6 719.5C895.2 720.5 893.7 721.4 892.3 722.2C890.9 723.0 889.4 723.8 888.0 724.4C886.5 725.1 885.0 725.7 883.5 726.1C882.0 726.6 880.5 727.0 878.9 727.2C877.4 727.5 875.9 727.7 874.3 727.7C872.8 727.7 871.2 727.6 869.6 727.4C868.1 727.2 866.5 726.8 864.9 726.4C863.4 726.0 861.8 725.4 860.3 724.8C858.7 724.2 857.2 723.5 855.7 722.7C854.2 721.9 852.8 721.0 851.3 720.1C849.9 719.1 848.5 718.1 847.1 717.0C845.8 716.0 844.4 714.8 843.2 713.7C841.9 712.5 840.7 711.3 839.5 710.1C838.4 708.8 837.2 707.5 836.2 706.2C835.1 704.9 834.1 703.6 833.2 702.2C832.2 700.9 831.3 699.5 830.4 698.1C829.5 696.7 828.7 695.2 827.9 693.8C827.1 692.3 826.3 690.8 825.6 689.3C824.8 687.8 824.1 686.3 823.4 684.8C822.7 683.2 822.1 681.7 821.4 680.1C820.8 678.6 820.1 677.0 819.5 675.5C818.9 673.9 818.3 672.3 817.7 670.7C817.1 669.1 816.5 667.6 815.9 666.0C815.3 664.4 814.7 662.8 814.1 661.2C813.5 659.6 812.9 658.0 812.3 656.5C811.7 654.9 811.1 653.3 810.5 651.7C809.9 650.1 809.3 648.6 808.7 647.0C808.1 645.4 807.5 643.8 806.9 642.3C806.3 640.7 805.7 639.1 805.1 637.6C804.6 636.0 804.0 634.4 803.4 632.8C802.8 631.3 802.2 629.7 801.6 628.1C801.0 626.6 800.5 625.0 799.9 623.4C799.3 621.8 798.7 620.3 798.2 618.7C797.6 617.1 797.1 615.5 796.5 614.0C796.0 612.4 795.4 610.8 794.9 609.2C794.4 607.7 793.9 606.1 793.3 604.5C792.8 602.9 792.3 601.3 791.8 599.7C791.3 598.2 790.8 596.6 790.3 595.0C789.8 593.4 789.3 591.8 788.9 590.2C788.4 588.6 787.9 587.0 787.4 585.4C787.0 583.8 786.5 582.2 786.0 580.6C785.6 579.0 785.1 577.5 784.7 575.9C784.2 574.3 783.7 572.7 783.3 571.1C782.8 569.5 782.4 567.9 781.9 566.3C781.5 564.7 781.0 563.1 780.6 561.5C780.1 559.9 779.7 558.3 779.2 556.7C778.8 555.0 778.3 553.4 777.9 551.8C777.4 550.2 776.9 548.6 776.5 547.0C776.0 545.4 775.6 543.8 775.1 542.2C774.6 540.6 774.2 539.0 773.7 537.4C773.2 535.8 772.7 534.2 772.2 532.6C771.8 531.0 771.3 529.4 770.8 527.8C770.3 526.2 769.8 524.6 769.3 523.0C768.8 521.4 768.3 519.8 767.7 518.2C767.2 516.6 766.7 515.0 766.2 513.4C765.6 511.8 765.1 510.2 764.5 508.6C764.0 507.0 763.4 505.4 762.8 503.9C762.3 502.3 761.7 500.7 761.1 499.1C760.5 497.5 759.9 495.9 759.3 494.3C758.6 492.7 758.0 491.1 757.4 489.6C756.7 488.0 756.1 486.4 755.4 484.8C754.7 483.2 754.1 481.7 753.4 480.1C752.7 478.5 751.9 477.0 751.2 475.4C750.5 473.9 749.7 472.4 748.9 470.9C748.1 469.4 747.3 467.9 746.5 466.4C745.6 465.0 744.7 463.6 743.8 462.2C742.9 460.8 742.0 459.4 741.0 458.0C740.1 456.7 739.1 455.4 738.0 454.2C737.0 452.9 735.9 451.7 734.7 450.5C733.6 449.3 732.4 448.2 731.2 447.1C730.0 446.0 728.7 445.0 727.4 444.0C726.1 443.1 724.8 442.2 723.4 441.3C722.0 440.4 720.5 439.6 719.0 438.8C717.6 438.1 716.1 437.3 714.5 436.7C713.0 436.0 711.4 435.4 709.9 434.8C708.3 434.2 706.7 433.6 705.1 433.1C703.5 432.6 701.8 432.1 700.2 431.7C698.6 431.3 696.9 430.8 695.3 430.5C693.7 430.1 692.0 429.8 690.4 429.5C688.8 429.2 687.1 428.9 685.5 428.6C683.8 428.4 682.2 428.2 680.5 428.0C678.9 427.8 677.2 427.6 675.6 427.5C673.9 427.3 672.2 427.2 670.6 427.1C668.9 427.0 667.3 426.9 665.6 426.9C663.9 426.8 662.3 426.8 660.6 426.8C658.9 426.8 657.3 426.8 655.6 426.8C653.9 426.8 652.3 426.8 650.6 426.8C648.9 426.9 647.2 426.9 645.6 427.0C643.9 427.1 642.2 427.1 640.5 427.2C638.9 427.3 637.2 427.4 635.5 427.5C633.8 427.6 632.1 427.7 630.5 427.8C628.8 427.9 627.1 428.0 625.4 428.1C623.8 428.3 622.1 428.4 620.4 428.5C618.7 428.6 617.0 428.7 615.4 428.8C613.7 428.9 612.0 429.0 610.3 429.1C608.6 429.2 607.0 429.3 605.3 429.4C603.6 429.5 601.9 429.6 600.2 429.7C598.6 429.8 596.9 429.8 595.2 429.9C593.5 429.9 591.9 430.0 590.2 430.0C588.5 430.1 586.8 430.1 585.2 430.1C583.5 430.1 581.8 430.2 580.1 430.2C578.5 430.2 576.8 430.2 575.1 430.2C573.5 430.2 571.8 430.2 570.1 430.2C568.4 430.2 566.8 430.2 565.1 430.2C563.4 430.2 561.8 430.2 560.1 430.2C558.4 430.2 556.8 430.2 555.1 430.2C553.4 430.2 551.8 430.2 550.1 430.2C548.4 430.2 546.8 430.2 545.1 430.2C543.4 430.2 541.8 430.2 540.1 430.2C538.4 430.2 536.8 430.2 535.1 430.2C533.4 430.2 531.8 430.3 530.1 430.3C528.4 430.3 526.8 430.4 525.1 430.4C523.4 430.5 521.8 430.5 520.1 430.6C518.4 430.6 516.8 430.7 515.1 430.8C513.4 430.9 511.8 431.0 510.1 431.1C508.5 431.2 506.8 431.3 505.1 431.4C503.5 431.5 501.8 431.7 500.1 431.8C498.5 432.0 496.8 432.1 495.1 432.3C493.5 432.4 491.8 432.6 490.1 432.8C488.5 433.0 486.8 433.2 485.1 433.3C483.5 433.5 481.8 433.7 480.1 433.9C478.5 434.1 476.8 434.3 475.2 434.5C473.5 434.7 471.8 435.0 470.2 435.2C468.5 435.4 466.8 435.6 465.2 435.8C463.5 436.0 461.8 436.3 460.2 436.5C458.5 436.7 456.8 436.9 455.2 437.1C453.5 437.4 451.8 437.6 450.2 437.8C448.5 438.0 446.8 438.2 445.2 438.4C443.5 438.6 441.8 438.9 440.2 439.1C438.5 439.3 436.8 439.5 435.2 439.7C433.5 439.9 431.8 440.1 430.2 440.2C428.5 440.4 426.8 440.6 425.1 440.8C423.5 441.0 421.8 441.1 420.1 441.3C418.5 441.4 416.8 441.6 415.1 441.7C413.5 441.9 411.8 442.0 410.1 442.1C408.4 442.2 406.8 442.3 405.1 442.4C403.4 442.5 401.8 442.6 400.1 442.7C398.4 442.8 396.7 442.9 395.1 442.9C393.4 443.0 391.7 443.0 390.0 443.1C388.4 443.1 386.7 443.2 385.0 443.2C383.4 443.3 381.7 443.3 380.0 443.3C378.3 443.4 376.7 443.4 375.0 443.4C373.3 443.4 371.7 443.5 370.0 443.5C368.3 443.5 366.6 443.6 365.0 443.6C363.3 443.6 361.6 443.7 360.0 443.7C358.3 443.8 356.6 443.8 355.0 443.9C353.3 443.9 351.6 444.0 350.0 444.0C348.3 444.1 346.6 444.2 345.0 444.2C343.3 444.3 341.7 444.4 340.0 444.5C338.3 444.6 336.7 444.7 335.0 444.9C333.4 445.0 331.7 445.1 330.0 445.3C328.4 445.4 326.7 445.6 325.1 445.8C323.4 446.0 321.8 446.2 320.1 446.4C318.5 446.6 316.8 446.8 315.2 447.1C313.5 447.4 311.9 447.6 310.3 447.9C308.6 448.2 307.0 448.5 305.3 448.9C303.7 449.2 302.1 449.6 300.4 450.0C298.8 450.3 297.2 450.7 295.5 451.2C293.9 451.6 292.3 452.0 290.7 452.5C289.1 453.0 287.5 453.5 285.9 454.0C284.2 454.5 282.6 455.0 281.1 455.6C279.5 456.1 277.9 456.7 276.3 457.3C274.7 457.9 273.1 458.5 271.6 459.1C270.0 459.8 268.5 460.4 266.9 461.1C265.4 461.8 263.8 462.5 262.3 463.2C260.8 463.9 259.3 464.7 257.8 465.4C256.3 466.2 254.8 467.0 253.3 467.8C251.8 468.6 250.4 469.4 248.9 470.2C247.4 471.1 246.0 471.9 244.6 472.8C243.1 473.7 241.7 474.6 240.3 475.5C238.9 476.4 237.5 477.4 236.2 478.3C234.8 479.3 233.4 480.3 232.1 481.3C230.7 482.3 229.4 483.3 228.1 484.3C226.8 485.4 225.5 486.4 224.2 487.5C223.0 488.6 221.7 489.7 220.5 490.8C219.2 491.9 218.0 493.0 216.8 494.2C215.6 495.3 214.4 496.5 213.3 497.7C212.1 498.9 211.0 500.1 209.9 501.3C208.7 502.6 207.6 503.8 206.6 505.1C205.5 506.3 204.4 507.6 203.4 508.9C202.3 510.2 201.3 511.5 200.3 512.8C199.3 514.1 198.3 515.5 197.3 516.8C196.3 518.2 195.3 519.5 194.4 520.9C193.4 522.3 192.5 523.7 191.6 525.1C190.6 526.5 189.7 527.9 188.8 529.3C187.9 530.7 187.0 532.1 186.2 533.5C185.3 535.0 184.4 536.4 183.5 537.9C182.7 539.3 181.8 540.8 181.0 542.2C180.1 543.7 179.3 545.1 178.5 546.6C177.7 548.1 176.8 549.5 176.0 551.0C175.2 552.5 174.4 553.9 173.6 555.4C172.8 556.9 172.0 558.4 171.2 559.8C170.4 561.3 169.6 562.8 168.8 564.3C168.0 565.7 167.2 567.2 166.5 568.7C165.7 570.2 164.5 572.4 164.1 573.1" stroke="#3D88C4" stroke-width="2.9"/>
<path d="M163.4 548.5C163.5 547.7 163.7 545.1 163.9 543.4C164.1 541.8 164.2 540.1 164.4 538.4C164.6 536.7 164.8 535.0 165.0 533.4C165.2 531.7 165.3 530.0 165.5 528.3C165.7 526.7 165.9 525.0 166.2 523.3C166.4 521.7 166.6 520.0 166.8 518.3C167.0 516.7 167.2 515.0 167.5 513.4C167.7 511.7 168.0 510.1 168.2 508.4C168.4 506.7 168.7 505.1 169.0 503.4C169.2 501.8 169.5 500.1 169.7 498.5C170.0 496.8 170.3 495.2 170.6 493.6C170.9 491.9 171.1 490.3 171.4 488.6C171.7 487.0 172.0 485.4 172.4 483.7C172.7 482.1 173.0 480.4 173.3 478.8C173.7 477.2 174.0 475.6 174.3 473.9C174.7 472.3 175.0 470.7 175.4 469.0C175.7 467.4 176.1 465.8 176.5 464.2C176.9 462.5 177.2 460.9 177.6 459.3C178.0 457.7 178.4 456.0 178.8 454.4C179.2 452.8 179.7 451.2 180.1 449.6C180.5 448.0 181.0 446.3 181.4 444.7C181.8 443.1 182.3 441.5 182.8 439.9C183.2 438.3 183.7 436.7 184.2 435.1C184.7 433.5 185.2 431.8 185.7 430.2C186.2 428.6 186.7 427.0 187.2 425.4C187.7 423.8 188.3 422.2 188.8 420.6C189.3 419.0 189.9 417.4 190.5 415.8C191.0 414.2 191.6 412.6 192.2 411.0C192.8 409.4 193.4 407.8 194.0 406.2C194.6 404.6 195.2 403.0 195.8 401.4C196.5 399.8 197.1 398.2 197.8 396.6C198.4 395.0 199.1 393.4 199.8 391.9C200.5 390.3 201.2 388.7 201.9 387.2C202.6 385.6 203.4 384.1 204.1 382.6C204.9 381.0 205.7 379.5 206.5 378.1C207.4 376.6 208.2 375.2 209.1 373.8C210.0 372.4 210.9 371.0 211.9 369.6C212.8 368.3 213.8 367.0 214.9 365.7C215.9 364.5 217.0 363.3 218.1 362.1C219.2 360.9 220.4 359.8 221.6 358.7C222.8 357.7 224.1 356.7 225.3 355.7C226.6 354.7 227.9 353.8 229.3 353.0C230.7 352.1 232.1 351.3 233.5 350.5C234.9 349.8 236.4 349.1 237.9 348.5C239.4 347.9 240.9 347.3 242.4 346.8C244.0 346.2 245.6 345.8 247.2 345.3C248.7 344.9 250.4 344.5 252.0 344.2C253.6 343.9 255.3 343.6 256.9 343.3C258.6 343.1 260.3 342.9 261.9 342.7C263.6 342.5 265.3 342.3 267.0 342.2C268.7 342.1 270.4 342.0 272.1 341.9C273.8 341.8 275.5 341.8 277.2 341.8C278.9 341.7 280.7 341.7 282.4 341.7C284.1 341.6 285.8 341.6 287.5 341.6C289.2 341.6 290.9 341.6 292.7 341.6C294.4 341.6 296.1 341.6 297.8 341.6C299.5 341.6 301.2 341.6 302.9 341.5C304.6 341.5 306.3 341.5 308.0 341.5C309.7 341.5 311.4 341.5 313.1 341.5C314.8 341.5 316.4 341.4 318.1 341.4C319.8 341.4 321.5 341.4 323.2 341.4C324.9 341.4 326.6 341.4 328.3 341.4C329.9 341.4 331.6 341.4 333.3 341.4C335.0 341.3 336.7 341.3 338.3 341.3C340.0 341.3 341.7 341.3 343.4 341.3C345.0 341.3 346.7 341.4 348.4 341.4C350.1 341.4 351.7 341.4 353.4 341.4C355.1 341.4 356.7 341.4 358.4 341.4C360.1 341.5 361.7 341.5 363.4 341.5C365.1 341.6 366.7 341.6 368.4 341.6C370.1 341.7 371.7 341.7 373.4 341.7C375.1 341.8 376.7 341.8 378.4 341.9C380.1 342.0 381.7 342.0 383.4 342.1C385.0 342.1 386.7 342.2 388.4 342.3C390.0 342.4 391.7 342.5 393.4 342.5C395.0 342.6 396.7 342.7 398.3 342.8C400.0 342.9 401.7 343.0 403.3 343.2C405.0 343.3 406.6 343.4 408.3 343.5C410.0 343.7 411.6 343.8 413.3 343.9C415.0 344.1 416.6 344.2 418.3 344.4C419.9 344.6 421.6 344.7 423.3 344.9C424.9 345.1 426.6 345.3 428.3 345.5C429.9 345.7 431.6 345.8 433.3 346.1C434.9 346.3 436.6 346.5 438.3 346.7C439.9 346.9 441.6 347.1 443.3 347.3C444.9 347.6 446.6 347.8 448.3 348.0C449.9 348.2 451.6 348.5 453.3 348.7C454.9 348.9 456.6 349.2 458.3 349.4C460.0 349.6 461.6 349.9 463.3 350.1C465.0 350.3 466.6 350.6 468.3 350.8C470.0 351.0 471.7 351.2 473.3 351.5C475.0 351.7 476.7 351.9 478.3 352.1C480.0 352.4 481.7 352.6 483.4 352.8C485.0 353.0 486.7 353.2 488.4 353.4C490.0 353.6 491.7 353.8 493.4 354.0C495.1 354.2 496.7 354.4 498.4 354.5C500.1 354.7 501.7 354.9 503.4 355.0C505.1 355.2 506.8 355.3 508.4 355.5C510.1 355.6 511.8 355.7 513.5 355.9C515.1 356.0 516.8 356.1 518.5 356.2C520.1 356.3 521.8 356.4 523.5 356.4C525.2 356.5 526.8 356.6 528.5 356.6C530.2 356.7 531.8 356.7 533.5 356.7C535.2 356.8 536.9 356.8 538.5 356.8C540.2 356.8 541.9 356.8 543.6 356.8C545.2 356.8 546.9 356.8 548.6 356.8C550.2 356.8 551.9 356.7 553.6 356.7C555.3 356.7 556.9 356.6 558.6 356.6C560.3 356.5 561.9 356.4 563.6 356.4C565.3 356.3 567.0 356.2 568.6 356.2C570.3 356.1 572.0 356.0 573.6 355.9C575.3 355.8 577.0 355.7 578.7 355.6C580.3 355.5 582.0 355.4 583.7 355.3C585.3 355.2 587.0 355.0 588.7 354.9C590.4 354.8 592.0 354.7 593.7 354.5C595.4 354.4 597.0 354.3 598.7 354.1C600.4 354.0 602.1 353.9 603.7 353.7C605.4 353.6 607.1 353.4 608.7 353.3C610.4 353.1 612.1 353.0 613.8 352.8C615.4 352.6 617.1 352.5 618.8 352.3C620.4 352.2 622.1 352.0 623.8 351.8C625.5 351.7 627.1 351.5 628.8 351.4C630.5 351.2 632.1 351.0 633.8 350.9C635.5 350.7 637.2 350.5 638.8 350.4C640.5 350.2 642.2 350.0 643.8 349.9C645.5 349.7 647.2 349.6 648.8 349.4C650.5 349.2 652.2 349.1 653.9 348.9C655.5 348.8 657.2 348.6 658.9 348.4C660.5 348.3 662.2 348.1 663.9 348.0C665.6 347.8 667.2 347.7 668.9 347.5C670.6 347.4 672.2 347.2 673.9 347.1C675.6 346.9 677.2 346.8 678.9 346.6C680.6 346.5 682.3 346.3 683.9 346.2C685.6 346.0 687.3 345.8 688.9 345.7C690.6 345.5 692.3 345.4 693.9 345.2C695.6 345.0 697.3 344.8 698.9 344.7C700.6 344.5 702.3 344.3 703.9 344.1C705.6 343.9 707.3 343.8 708.9 343.6C710.6 343.4 712.3 343.2 713.9 342.9C715.6 342.7 717.3 342.5 718.9 342.3C720.6 342.1 722.2 341.8 723.9 341.6C725.6 341.4 727.2 341.1 728.9 340.9C730.6 340.6 732.2 340.4 733.9 340.1C735.5 339.8 737.2 339.5 738.8 339.2C740.5 338.9 742.2 338.6 743.8 338.3C745.5 338.0 747.1 337.7 748.8 337.3C750.4 337.0 752.1 336.6 753.7 336.3C755.4 335.9 757.0 335.5 758.6 335.1C760.3 334.7 761.9 334.2 763.5 333.8C765.1 333.3 766.7 332.9 768.3 332.3C769.9 331.8 771.5 331.3 773.1 330.8C774.7 330.2 776.2 329.6 777.8 329.0C779.4 328.4 780.9 327.7 782.4 327.0C784.0 326.3 785.5 325.6 787.0 324.9C788.5 324.1 789.9 323.3 791.4 322.5C792.9 321.7 794.3 320.8 795.8 319.9C797.2 319.1 798.6 318.2 800.0 317.2C801.4 316.3 802.8 315.3 804.2 314.4C805.5 313.4 806.9 312.4 808.2 311.4C809.6 310.3 810.9 309.3 812.2 308.2C813.5 307.2 814.7 306.1 816.0 305.0C817.3 303.9 818.5 302.8 819.7 301.7C821.0 300.6 822.2 299.5 823.4 298.3C824.6 297.2 825.8 296.0 826.9 294.8C828.1 293.7 829.2 292.5 830.4 291.3C831.5 290.1 832.6 288.8 833.7 287.6C834.8 286.4 835.9 285.2 837.0 283.9C838.1 282.7 839.2 281.4 840.2 280.1C841.3 278.8 842.3 277.6 843.3 276.3C844.4 275.0 845.4 273.7 846.4 272.3C847.4 271.0 848.4 269.7 849.4 268.4C850.4 267.0 851.4 265.7 852.4 264.3C853.3 263.0 854.3 261.6 855.3 260.3C856.2 258.9 857.2 257.5 858.1 256.2C859.0 254.8 860.0 253.4 860.9 252.0C861.8 250.6 862.8 249.2 863.7 247.8C864.6 246.4 865.5 245.0 866.4 243.6C867.3 242.1 868.2 240.7 869.1 239.3C870.0 237.9 870.9 236.4 871.8 235.0C872.7 233.6 873.6 232.1 874.4 230.7C875.3 229.3 876.2 227.8 877.1 226.4C878.0 224.9 878.8 223.5 879.7 222.0C880.6 220.6 881.4 219.1 882.3 217.7C883.2 216.2 884.0 214.7 884.9 213.3C885.8 211.8 886.6 210.4 887.5 208.9C888.3 207.4 889.2 206.0 890.0 204.5C890.9 203.0 891.8 201.6 892.6 200.1C893.5 198.6 894.3 197.2 895.2 195.7C896.0 194.2 896.9 192.8 897.8 191.3C898.6 189.8 899.5 188.4 900.3 186.9C901.2 185.4 902.0 184.0 902.9 182.5C903.8 181.0 904.6 179.6 905.5 178.1C906.4 176.6 907.2 175.2 908.1 173.7C909.0 172.3 909.8 170.8 910.7 169.4C911.6 167.9 912.4 166.5 913.3 165.0C914.2 163.6 915.1 162.1 916.0 160.7C916.8 159.2 917.7 157.8 918.6 156.4C919.5 154.9 920.4 153.5 921.3 152.1C922.2 150.6 923.1 149.2 924.0 147.8C924.9 146.4 925.8 145.0 926.8 143.6C927.7 142.2 928.6 140.7 929.5 139.3C930.5 138.0 931.4 136.6 932.3 135.2C933.3 133.8 934.2 132.4 935.2 131.0C936.1 129.7 937.1 128.3 938.1 126.9C939.0 125.6 940.0 124.2 941.0 122.9C942.0 121.5 943.0 120.2 944.0 118.8C945.0 117.5 946.0 116.2 947.0 114.9C948.0 113.5 949.0 112.2 950.0 110.9C951.1 109.6 952.1 108.3 953.1 107.0C954.2 105.8 955.3 104.5 956.3 103.2C957.4 102.0 958.5 100.7 959.5 99.4C960.6 98.2 961.7 97.0 962.8 95.7C963.9 94.5 965.0 93.3 966.2 92.1C967.3 90.9 968.4 89.7 969.6 88.5C970.7 87.3 971.9 86.1 973.0 85.0C974.2 83.8 975.4 82.6 976.6 81.5C977.8 80.4 979.0 79.2 980.2 78.1C981.4 77.0 982.7 75.9 983.9 74.8C985.1 73.7 986.4 72.6 987.7 71.6C988.9 70.5 990.2 69.4 991.5 68.4C992.8 67.4 994.1 66.3 995.4 65.3C996.8 64.3 998.1 63.3 999.4 62.3C1000.8 61.3 1002.2 60.3 1003.5 59.4C1004.9 58.4 1006.3 57.5 1007.7 56.6C1009.1 55.6 1010.5 54.7 1011.9 53.8C1013.3 52.9 1014.8 52.0 1016.2 51.1C1017.6 50.2 1019.1 49.4 1020.6 48.5C1022.0 47.7 1023.5 46.8 1025.0 46.0C1026.4 45.2 1027.9 44.4 1029.4 43.6C1030.9 42.8 1032.4 42.0 1033.9 41.3C1035.5 40.5 1037.0 39.7 1038.5 39.0C1040.0 38.3 1041.6 37.5 1043.1 36.8C1044.6 36.1 1046.2 35.4 1047.7 34.7C1049.3 34.0 1050.9 33.4 1052.4 32.7C1054.0 32.1 1055.5 31.4 1057.1 30.8C1058.7 30.2 1060.3 29.6 1061.9 29.0C1063.4 28.4 1065.0 27.8 1066.6 27.2C1068.2 26.6 1069.8 26.1 1071.4 25.5C1073.0 25.0 1074.6 24.5 1076.2 24.0C1077.8 23.5 1079.4 23.0 1081.0 22.5C1082.6 22.0 1084.2 21.5 1085.8 21.1C1087.5 20.6 1089.1 20.1 1090.7 19.7C1092.3 19.3 1093.9 18.9 1095.5 18.5C1097.2 18.0 1098.8 17.7 1100.4 17.3C1102.0 16.9 1103.7 16.5 1105.3 16.2C1106.9 15.8 1108.6 15.4 1110.2 15.1C1111.8 14.8 1113.5 14.4 1115.1 14.1C1116.8 13.8 1118.4 13.5 1120.1 13.2C1121.7 12.9 1123.3 12.6 1125.0 12.4C1126.6 12.1 1128.3 11.8 1129.9 11.6C1131.6 11.3 1133.2 11.1 1134.9 10.8C1136.6 10.6 1138.2 10.4 1139.9 10.2C1141.5 9.9 1143.2 9.7 1144.8 9.5C1146.5 9.3 1148.2 9.2 1149.8 9.0C1151.5 8.8 1153.2 8.6 1154.8 8.5C1156.5 8.3 1158.2 8.1 1159.8 8.0C1161.5 7.9 1163.2 7.7 1164.8 7.6C1166.5 7.5 1168.2 7.3 1169.9 7.2C1171.5 7.1 1173.2 7.0 1174.9 6.9C1176.6 6.8 1178.2 6.7 1179.9 6.6C1181.6 6.5 1183.3 6.5 1184.9 6.4C1186.6 6.3 1188.3 6.3 1190.0 6.2C1191.6 6.2 1193.3 6.1 1195.0 6.1C1196.7 6.0 1198.4 6.0 1200.0 6.0C1201.7 5.9 1203.4 5.9 1205.1 5.9C1206.8 5.9 1208.4 5.9 1210.1 5.9C1211.8 5.9 1213.5 5.9 1215.2 5.9C1216.8 5.9 1218.5 5.9 1220.2 5.9C1221.9 5.9 1223.6 6.0 1225.2 6.0C1226.9 6.0 1228.6 6.0 1230.3 6.1C1231.9 6.1 1233.6 6.2 1235.3 6.2C1237.0 6.3 1238.7 6.3 1240.3 6.4C1242.0 6.4 1243.7 6.5 1245.4 6.6C1247.0 6.6 1248.7 6.7 1250.4 6.8C1252.1 6.8 1254.6 7.0 1255.4 7.0C1255.3 7.8 1254.9 10.3 1254.7 12.0C1254.4 13.6 1254.2 15.3 1253.9 16.9C1253.6 18.6 1253.4 20.2 1253.1 21.9C1252.8 23.5 1252.5 25.2 1252.2 26.8C1251.9 28.5 1251.6 30.1 1251.3 31.7C1250.9 33.4 1250.6 35.0 1250.3 36.7C1249.9 38.3 1249.6 39.9 1249.2 41.6C1248.9 43.2 1248.5 44.8 1248.2 46.5C1247.8 48.1 1247.4 49.7 1247.0 51.3C1246.6 53.0 1246.2 54.6 1245.8 56.2C1245.4 57.8 1245.0 59.5 1244.6 61.1C1244.2 62.7 1243.8 64.3 1243.4 65.9C1242.9 67.5 1242.5 69.2 1242.1 70.8C1241.6 72.4 1241.2 74.0 1240.7 75.6C1240.3 77.2 1239.8 78.8 1239.3 80.4C1238.9 82.0 1238.4 83.6 1237.9 85.2C1237.4 86.9 1237.0 88.5 1236.5 90.1C1236.0 91.7 1235.5 93.3 1235.0 94.9C1234.5 96.5 1234.0 98.0 1233.5 99.6C1232.9 101.2 1232.4 102.8 1231.9 104.4C1231.4 106.0 1230.9 107.6 1230.3 109.2C1229.8 110.8 1229.3 112.4 1228.7 114.0C1228.2 115.5 1227.6 117.1 1227.1 118.7C1226.5 120.3 1226.0 121.9 1225.4 123.5C1224.9 125.0 1224.3 126.6 1223.7 128.2C1223.2 129.8 1222.6 131.4 1222.0 132.9C1221.5 134.5 1220.9 136.1 1220.3 137.7C1219.7 139.2 1219.1 140.8 1218.6 142.4C1218.0 143.9 1217.4 145.5 1216.8 147.1C1216.2 148.7 1215.6 150.2 1215.0 151.8C1214.4 153.3 1213.7 154.9 1213.1 156.5C1212.5 158.0 1211.9 159.6 1211.3 161.1C1210.6 162.7 1210.0 164.2 1209.4 165.8C1208.7 167.3 1208.1 168.9 1207.4 170.4C1206.8 172.0 1206.1 173.5 1205.5 175.0C1204.8 176.6 1204.1 178.1 1203.5 179.6C1202.8 181.2 1202.1 182.7 1201.4 184.2C1200.8 185.8 1200.1 187.3 1199.4 188.8C1198.7 190.3 1198.0 191.8 1197.3 193.4C1196.6 194.9 1195.8 196.4 1195.1 197.9C1194.4 199.4 1193.7 200.9 1192.9 202.4C1192.2 203.9 1191.5 205.4 1190.7 206.9C1190.0 208.4 1189.2 209.9 1188.4 211.4C1187.7 212.8 1186.9 214.3 1186.1 215.8C1185.3 217.3 1184.6 218.8 1183.8 220.2C1183.0 221.7 1182.2 223.2 1181.4 224.6C1180.6 226.1 1179.7 227.5 1178.9 229.0C1178.1 230.4 1177.3 231.9 1176.4 233.3C1175.6 234.8 1174.7 236.2 1173.9 237.6C1173.0 239.1 1172.1 240.5 1171.3 241.9C1170.4 243.4 1169.5 244.8 1168.6 246.2C1167.7 247.6 1166.8 249.0 1165.9 250.4C1165.0 251.8 1164.1 253.2 1163.2 254.6C1162.2 256.0 1161.3 257.4 1160.4 258.8C1159.4 260.2 1158.5 261.5 1157.5 262.9C1156.6 264.3 1155.6 265.6 1154.6 267.0C1153.6 268.4 1152.6 269.7 1151.6 271.1C1150.7 272.4 1149.6 273.8 1148.6 275.1C1147.6 276.4 1146.6 277.8 1145.6 279.1C1144.5 280.4 1143.5 281.7 1142.5 283.0C1141.4 284.4 1140.4 285.7 1139.3 287.0C1138.2 288.3 1137.2 289.5 1136.1 290.8C1135.0 292.1 1133.9 293.4 1132.8 294.7C1131.7 295.9 1130.6 297.2 1129.5 298.5C1128.4 299.7 1127.3 301.0 1126.2 302.2C1125.0 303.4 1123.9 304.7 1122.8 305.9C1121.6 307.1 1120.5 308.4 1119.3 309.6C1118.1 310.8 1117.0 312.0 1115.8 313.2C1114.6 314.4 1113.5 315.6 1112.3 316.8C1111.1 317.9 1109.9 319.1 1108.7 320.3C1107.5 321.5 1106.3 322.6 1105.0 323.8C1103.8 324.9 1102.6 326.1 1101.4 327.2C1100.1 328.3 1098.9 329.4 1097.6 330.6C1096.4 331.7 1095.1 332.8 1093.9 333.9C1092.6 335.0 1091.3 336.1 1090.0 337.2C1088.8 338.2 1087.5 339.3 1086.2 340.4C1084.9 341.5 1083.6 342.5 1082.3 343.6C1081.0 344.6 1079.7 345.6 1078.3 346.7C1077.0 347.7 1075.7 348.7 1074.4 349.7C1073.0 350.7 1071.7 351.7 1070.3 352.7C1069.0 353.7 1067.6 354.7 1066.3 355.7C1064.9 356.6 1063.5 357.6 1062.2 358.5C1060.8 359.5 1059.4 360.4 1058.0 361.4C1056.6 362.3 1055.2 363.2 1053.8 364.1C1052.4 365.1 1051.0 366.0 1049.6 366.9C1048.2 367.8 1046.8 368.7 1045.4 369.6C1044.0 370.5 1042.6 371.4 1041.2 372.3C1039.8 373.2 1038.3 374.1 1036.9 375.0C1035.5 375.9 1034.1 376.8 1032.7 377.8C1031.3 378.7 1029.9 379.6 1028.6 380.5C1027.2 381.5 1025.8 382.4 1024.4 383.3C1023.0 384.3 1021.7 385.3 1020.3 386.2C1018.9 387.2 1017.6 388.2 1016.3 389.2C1014.9 390.2 1013.6 391.2 1012.3 392.2C1011.0 393.3 1009.6 394.3 1008.4 395.4C1007.1 396.4 1005.8 397.5 1004.5 398.6C1003.2 399.7 1002.0 400.8 1000.7 401.9C999.5 403.0 998.2 404.2 997.0 405.3C995.8 406.5 994.5 407.6 993.3 408.8C992.1 410.0 990.9 411.1 989.7 412.3C988.6 413.5 987.4 414.7 986.2 415.9C985.1 417.1 983.9 418.4 982.8 419.6C981.6 420.8 980.5 422.1 979.4 423.3C978.3 424.6 977.2 425.8 976.1 427.1C975.0 428.4 973.9 429.6 972.8 430.9C971.7 432.2 970.7 433.5 969.6 434.8C968.6 436.1 967.5 437.4 966.5 438.7C965.5 440.1 964.5 441.4 963.5 442.7C962.5 444.0 961.5 445.4 960.5 446.7C959.5 448.1 958.5 449.4 957.6 450.8C956.6 452.1 955.6 453.5 954.7 454.9C953.8 456.3 952.8 457.6 951.9 459.0C951.0 460.4 950.1 461.8 949.2 463.2C948.3 464.6 947.4 466.0 946.5 467.4C945.6 468.8 944.7 470.2 943.8 471.7C943.0 473.1 942.1 474.5 941.3 475.9C940.4 477.4 939.6 478.8 938.7 480.2C937.9 481.7 937.1 483.1 936.2 484.6C935.4 486.0 934.6 487.5 933.8 489.0C933.0 490.4 932.2 491.9 931.4 493.4C930.6 494.8 929.9 496.3 929.1 497.8C928.3 499.3 927.6 500.8 926.8 502.3C926.0 503.7 925.3 505.2 924.5 506.7C923.8 508.2 923.1 509.7 922.3 511.2C921.6 512.8 920.9 514.3 920.1 515.8C919.4 517.3 918.7 518.8 918.0 520.3C917.3 521.8 916.6 523.4 915.9 524.9C915.2 526.4 914.5 528.0 913.8 529.5C913.1 531.0 912.5 532.6 911.8 534.1C911.1 535.6 910.4 537.2 909.8 538.7C909.1 540.3 908.4 541.8 907.8 543.4C907.1 544.9 906.5 546.5 905.8 548.0C905.2 549.6 904.5 551.1 903.9 552.7C903.3 554.2 902.6 555.8 902.0 557.3C901.4 558.9 900.7 560.5 900.1 562.0C899.5 563.6 898.9 565.2 898.2 566.7C897.6 568.3 897.0 569.8 896.4 571.4C895.8 573.0 895.2 574.6 894.6 576.1C894.0 577.7 893.4 579.3 892.8 580.8C892.2 582.4 891.6 584.0 891.0 585.5C890.4 587.1 889.8 588.7 889.2 590.3C888.6 591.8 888.0 593.4 887.4 595.0C886.8 596.5 886.2 598.1 885.6 599.7C885.0 601.3 884.5 602.8 883.9 604.4C883.3 606.0 882.7 607.6 882.1 609.1C881.6 610.7 881.0 612.3 880.4 613.9C879.8 615.4 879.3 617.0 878.7 618.6C878.1 620.2 877.6 621.7 877.0 623.3C876.4 624.9 875.9 626.5 875.3 628.0C874.8 629.6 874.2 631.2 873.6 632.8C873.1 634.4 872.5 635.9 872.0 637.5C871.4 639.1 870.9 640.7 870.3 642.3C869.8 643.8 869.2 645.4 868.7 647.0C868.1 648.6 867.6 650.2 867.0 651.7C866.5 653.3 866.0 654.9 865.4 656.5C864.9 658.1 864.4 659.7 863.8 661.2C863.3 662.8 862.8 664.4 862.2 666.0C861.7 667.6 861.2 669.2 860.6 670.8C860.1 672.3 859.6 673.9 859.1 675.5C858.5 677.1 858.0 678.7 857.5 680.3C857.0 681.9 856.5 683.5 856.0 685.0C855.4 686.6 854.9 688.2 854.4 689.8C853.9 691.4 853.4 693.0 852.9 694.6C852.4 696.2 851.9 697.8 851.4 699.4C850.9 700.9 850.4 702.5 849.9 704.1C849.4 705.7 848.9 707.3 848.4 708.9C847.9 710.5 847.4 712.1 846.9 713.7C846.4 715.3 845.9 716.9 845.4 718.5C844.9 720.1 844.4 721.7 843.9 723.3C843.5 724.9 843.0 726.5 842.5 728.1C842.0 729.7 841.5 731.3 841.0 732.9C840.6 734.5 840.1 736.1 839.6 737.7C839.1 739.3 838.7 740.9 838.2 742.5C837.7 744.1 837.2 745.7 836.8 747.3C836.3 748.9 835.8 750.5 835.4 752.1C834.9 753.7 834.4 755.3 834.0 756.9C833.5 758.5 833.1 760.1 832.6 761.7C832.1 763.3 831.7 764.9 831.2 766.5C830.8 768.1 830.3 769.7 829.8 771.3C829.4 773.0 828.9 774.6 828.5 776.2C828.0 777.8 827.5 779.4 827.1 781.0C826.6 782.6 826.2 784.2 825.7 785.8C825.2 787.4 824.8 789.1 824.3 790.7C823.9 792.3 823.4 793.9 822.9 795.5C822.5 797.1 822.0 798.7 821.5 800.4C821.0 802.0 820.6 803.6 820.1 805.2C819.6 806.8 819.1 808.4 818.7 810.1C818.2 811.7 817.7 813.3 817.2 814.9C816.7 816.5 816.2 818.2 815.8 819.8C815.3 821.4 814.8 823.0 814.3 824.6C813.8 826.3 813.2 827.9 812.7 829.5C812.2 831.1 811.6 832.7 811.1 834.3C810.5 835.9 810.0 837.5 809.4 839.1C808.8 840.7 808.2 842.3 807.5 843.9C806.9 845.5 806.2 847.0 805.5 848.6C804.8 850.1 804.1 851.7 803.3 853.2C802.6 854.7 801.8 856.2 800.9 857.7C800.1 859.2 799.2 860.6 798.3 862.0C797.4 863.4 796.4 864.7 795.4 866.0C794.4 867.3 793.3 868.6 792.2 869.7C791.1 870.9 789.9 872.0 788.7 873.0C787.5 874.1 786.2 875.0 784.8 875.9C783.5 876.8 782.1 877.6 780.7 878.3C779.3 879.1 777.8 879.8 776.3 880.4C774.9 881.0 773.3 881.5 771.8 882.0C770.2 882.5 768.6 882.9 767.0 883.2C765.4 883.5 763.8 883.8 762.2 884.0C760.5 884.2 758.9 884.4 757.2 884.4C755.5 884.5 753.9 884.5 752.2 884.5C750.5 884.4 748.8 884.3 747.1 884.2C745.5 884.0 743.8 883.8 742.1 883.5C740.4 883.2 738.7 882.9 737.1 882.5C735.4 882.1 733.7 881.7 732.1 881.2C730.4 880.7 728.8 880.2 727.2 879.6C725.5 879.0 723.9 878.4 722.3 877.7C720.7 877.1 719.2 876.3 717.6 875.6C716.0 874.9 714.5 874.1 713.0 873.2C711.5 872.4 710.0 871.5 708.6 870.7C707.1 869.8 705.7 868.8 704.3 867.9C702.9 866.9 701.6 865.9 700.3 864.9C698.9 863.9 697.6 862.8 696.4 861.7C695.1 860.7 693.9 859.6 692.7 858.4C691.4 857.3 690.3 856.1 689.1 854.9C688.0 853.7 686.9 852.5 685.8 851.3C684.7 850.1 683.6 848.8 682.6 847.5C681.5 846.2 680.5 844.9 679.6 843.6C678.6 842.2 677.7 840.9 676.7 839.5C675.8 838.1 674.9 836.7 674.1 835.3C673.2 833.9 672.4 832.5 671.6 831.1C670.8 829.6 670.0 828.1 669.3 826.7C668.6 825.2 667.8 823.7 667.2 822.2C666.5 820.7 665.8 819.2 665.2 817.6C664.6 816.1 664.0 814.5 663.4 813.0C662.8 811.4 662.3 809.8 661.8 808.3C661.3 806.7 660.8 805.1 660.3 803.5C659.8 801.9 659.3 800.3 658.9 798.7C658.4 797.1 658.0 795.4 657.6 793.8C657.2 792.2 656.8 790.5 656.4 788.9C656.1 787.2 655.7 785.6 655.3 783.9C655.0 782.3 654.6 780.6 654.3 779.0C654.0 777.3 653.6 775.7 653.3 774.0C653.0 772.3 652.7 770.7 652.4 769.0C652.1 767.3 651.8 765.7 651.5 764.0C651.2 762.4 650.9 760.7 650.6 759.0C650.3 757.4 650.0 755.7 649.7 754.0C649.4 752.4 649.1 750.7 648.8 749.1C648.5 747.4 648.2 745.7 647.9 744.1C647.6 742.4 647.3 740.8 647.0 739.1C646.7 737.5 646.5 735.8 646.2 734.1C645.9 732.5 645.6 730.8 645.3 729.2C645.0 727.5 644.8 725.9 644.5 724.2C644.2 722.6 643.9 720.9 643.7 719.3C643.4 717.6 643.1 716.0 642.8 714.3C642.5 712.7 642.3 711.0 642.0 709.4C641.7 707.7 641.5 706.1 641.2 704.4C640.9 702.8 640.7 701.1 640.4 699.5C640.1 697.8 639.8 696.2 639.6 694.5C639.3 692.9 639.0 691.2 638.8 689.6C638.5 687.9 638.3 686.3 638.0 684.6C637.7 683.0 637.5 681.3 637.2 679.7C636.9 678.0 636.7 676.4 636.4 674.7C636.2 673.1 635.9 671.5 635.7 669.8C635.4 668.2 635.1 666.5 634.9 664.9C634.6 663.2 634.4 661.6 634.1 659.9C633.9 658.3 633.6 656.6 633.3 655.0C633.1 653.3 632.8 651.7 632.6 650.0C632.3 648.4 632.1 646.7 631.8 645.1C631.6 643.4 631.3 641.8 631.1 640.1C630.8 638.5 630.6 636.8 630.3 635.2C630.1 633.5 629.8 631.9 629.6 630.2C629.3 628.6 629.1 626.9 628.8 625.3C628.6 623.6 628.3 622.0 628.1 620.3C627.8 618.7 627.6 617.0 627.3 615.4C627.1 613.7 626.8 612.0 626.6 610.4C626.3 608.7 626.1 607.1 625.8 605.4C625.6 603.8 625.3 602.1 625.1 600.5C624.8 598.8 624.6 597.1 624.3 595.5C624.0 593.8 623.8 592.2 623.5 590.5C623.3 588.9 623.0 587.2 622.7 585.5C622.5 583.9 622.2 582.2 621.9 580.6C621.7 578.9 621.4 577.3 621.1 575.6C620.8 574.0 620.6 572.3 620.3 570.6C620.0 569.0 619.7 567.3 619.4 565.7C619.1 564.0 618.8 562.4 618.5 560.7C618.2 559.1 617.8 557.5 617.5 555.8C617.2 554.2 616.9 552.5 616.5 550.9C616.2 549.2 615.8 547.6 615.5 546.0C615.1 544.3 614.8 542.7 614.4 541.1C614.0 539.4 613.6 537.8 613.2 536.2C612.9 534.5 612.5 532.9 612.0 531.3C611.6 529.7 611.2 528.0 610.8 526.4C610.4 524.8 609.9 523.2 609.5 521.6C609.0 520.0 608.5 518.4 608.1 516.8C607.6 515.2 607.1 513.5 606.6 512.0C606.1 510.4 605.6 508.8 605.1 507.2C604.5 505.6 604.0 504.0 603.5 502.4C602.9 500.8 602.3 499.2 601.8 497.7C601.2 496.1 600.6 494.5 600.0 492.9C599.4 491.4 598.7 489.8 598.1 488.3C597.4 486.7 596.8 485.1 596.1 483.6C595.4 482.0 594.8 480.5 594.0 479.0C593.3 477.4 592.6 475.9 591.9 474.4C591.1 472.9 590.3 471.3 589.5 469.9C588.8 468.4 587.9 466.9 587.1 465.4C586.2 464.0 585.4 462.6 584.5 461.2C583.6 459.8 582.6 458.4 581.6 457.0C580.7 455.7 579.7 454.4 578.6 453.1C577.6 451.8 576.5 450.6 575.4 449.4C574.3 448.2 573.1 447.1 571.9 446.0C570.7 444.8 569.4 443.8 568.2 442.8C566.9 441.7 565.5 440.8 564.2 439.8C562.8 438.9 561.4 438.0 560.0 437.1C558.6 436.3 557.2 435.4 555.7 434.6C554.2 433.8 552.7 433.1 551.2 432.4C549.7 431.6 548.1 430.9 546.6 430.3C545.1 429.6 543.5 429.0 541.9 428.3C540.3 427.7 538.7 427.1 537.1 426.6C535.6 426.0 534.0 425.5 532.4 425.0C530.8 424.4 529.1 423.9 527.5 423.5C525.9 423.0 524.3 422.5 522.7 422.1C521.1 421.6 519.4 421.2 517.8 420.8C516.2 420.4 514.6 420.0 512.9 419.7C511.3 419.3 509.6 419.0 508.0 418.6C506.4 418.3 504.7 418.0 503.1 417.7C501.4 417.4 499.8 417.1 498.1 416.9C496.5 416.6 494.8 416.3 493.2 416.1C491.5 415.9 489.8 415.6 488.2 415.4C486.5 415.2 484.9 415.0 483.2 414.8C481.5 414.7 479.8 414.5 478.2 414.3C476.5 414.2 474.8 414.0 473.2 413.9C471.5 413.8 469.8 413.6 468.1 413.5C466.5 413.4 464.8 413.3 463.1 413.2C461.4 413.1 459.8 413.0 458.1 412.9C456.4 412.8 454.7 412.8 453.0 412.7C451.4 412.6 449.7 412.6 448.0 412.5C446.3 412.4 444.6 412.4 443.0 412.3C441.3 412.3 439.6 412.3 437.9 412.2C436.2 412.2 434.6 412.2 432.9 412.1C431.2 412.1 429.5 412.1 427.8 412.0C426.2 412.0 424.5 412.0 422.8 412.0C421.1 412.0 419.5 411.9 417.8 411.9C416.1 411.9 414.4 411.9 412.8 411.9C411.1 411.9 409.4 411.8 407.8 411.8C406.1 411.8 404.4 411.8 402.8 411.8C401.1 411.8 399.4 411.8 397.8 411.8C396.1 411.8 394.4 411.8 392.8 411.8C391.1 411.7 389.4 411.7 387.8 411.7C386.1 411.7 384.4 411.7 382.8 411.7C381.1 411.7 379.4 411.8 377.8 411.8C376.1 411.8 374.5 411.8 372.8 411.8C371.1 411.8 369.5 411.8 367.8 411.8C366.1 411.8 364.5 411.9 362.8 411.9C361.1 411.9 359.5 411.9 357.8 412.0C356.1 412.0 354.5 412.0 352.8 412.1C351.1 412.1 349.5 412.1 347.8 412.2C346.1 412.2 344.5 412.2 342.8 412.3C341.1 412.3 339.4 412.4 337.8 412.4C336.1 412.5 334.4 412.5 332.7 412.6C331.1 412.7 329.4 412.7 327.7 412.8C326.0 412.9 324.4 412.9 322.7 413.0C321.0 413.1 319.3 413.2 317.6 413.2C315.9 413.3 314.2 413.4 312.6 413.5C310.9 413.6 309.2 413.7 307.5 413.8C305.8 413.9 304.1 414.0 302.4 414.1C300.7 414.2 299.0 414.3 297.3 414.5C295.6 414.6 293.9 414.7 292.2 414.9C290.5 415.0 288.8 415.2 287.2 415.4C285.5 415.5 283.8 415.7 282.1 415.9C280.4 416.1 278.8 416.4 277.1 416.6C275.4 416.8 273.7 417.1 272.1 417.4C270.4 417.7 268.8 418.0 267.1 418.3C265.5 418.7 263.9 419.0 262.2 419.4C260.6 419.8 259.0 420.2 257.4 420.6C255.8 421.1 254.2 421.5 252.6 422.1C251.1 422.6 249.5 423.1 247.9 423.7C246.4 424.2 244.8 424.8 243.3 425.5C241.8 426.1 240.3 426.8 238.8 427.5C237.3 428.2 235.8 429.0 234.4 429.8C233.0 430.6 231.6 431.5 230.2 432.4C228.8 433.3 227.5 434.2 226.2 435.2C224.9 436.2 223.7 437.3 222.4 438.4C221.2 439.5 220.1 440.6 218.9 441.8C217.8 443.0 216.7 444.2 215.6 445.5C214.6 446.8 213.5 448.1 212.5 449.4C211.5 450.7 210.6 452.1 209.6 453.5C208.7 454.8 207.8 456.2 206.9 457.7C206.0 459.1 205.1 460.5 204.3 462.0C203.5 463.4 202.6 464.9 201.8 466.4C201.0 467.9 200.3 469.4 199.5 470.9C198.7 472.4 198.0 473.9 197.2 475.5C196.5 477.0 195.8 478.5 195.0 480.1C194.3 481.6 193.6 483.2 192.9 484.7C192.2 486.2 191.5 487.8 190.8 489.3C190.1 490.9 189.4 492.4 188.7 493.9C187.9 495.5 187.2 497.0 186.5 498.5C185.8 500.1 185.1 501.6 184.4 503.1C183.6 504.6 182.9 506.1 182.2 507.6C181.4 509.1 180.7 510.6 179.9 512.0C179.2 513.5 178.5 515.0 177.7 516.5C177.0 518.0 176.2 519.5 175.5 520.9C174.8 522.4 174.0 523.9 173.3 525.4C172.6 526.9 171.9 528.4 171.2 529.9C170.5 531.4 169.8 532.9 169.1 534.4C168.4 536.0 167.8 537.5 167.1 539.0C166.5 540.6 165.8 542.1 165.2 543.7C164.6 545.3 163.7 547.7 163.4 548.5" stroke="#E2613F" stroke-width="2.9"/>
<line x1="884.3" y1="213.6" x2="885.3" y2="211.9" stroke="#fff" stroke-width="5"/>
</g>
<g stroke="#444" stroke-width="2.3" fill="none">
<line x1="158.9" y1="0" x2="158.9" y2="889.2"/>
<line x1="157.75" y1="889.2" x2="1261.3500000000001" y2="889.2"/>
<line x1="1260.2" y1="0" x2="1260.2" y2="889.2" stroke="#5c5c5c" stroke-width="2.6"/>
<line x1="140.8" y1="71.5" x2="158.9" y2="71.5"/>
<line x1="140.8" y1="227.5" x2="158.9" y2="227.5"/>
<line x1="140.8" y1="383.5" x2="158.9" y2="383.5"/>
<line x1="140.8" y1="539.5" x2="158.9" y2="539.5"/>
<line x1="140.8" y1="695.5" x2="158.9" y2="695.5"/>
<line x1="140.8" y1="851.5" x2="158.9" y2="851.5"/>
<line x1="163.4" y1="889.2" x2="163.4" y2="907.2"/>
<line x1="381.6" y1="889.2" x2="381.6" y2="907.2"/>
<line x1="599.8" y1="889.2" x2="599.8" y2="907.2"/>
<line x1="818.0" y1="889.2" x2="818.0" y2="907.2"/>
<line x1="1036.2" y1="889.2" x2="1036.2" y2="907.2"/>
<line x1="1254.4" y1="889.2" x2="1254.4" y2="907.2"/>
</g>
<rect x="157.75" y="0" width="1103.6" height="1.9" fill="#222"/>
<g font-size="36.5">
<text transform="translate(132.2,82.6) scale(1.03,1)" text-anchor="end">40</text>
<text transform="translate(132.2,238.6) scale(1.03,1)" text-anchor="end">20</text>
<text transform="translate(132.2,394.6) scale(1.03,1)" text-anchor="end">0</text>
<text transform="translate(132.2,550.6) scale(1.03,1)" text-anchor="end">-20</text>
<text transform="translate(132.2,706.6) scale(1.03,1)" text-anchor="end">-40</text>
<text transform="translate(132.2,862.6) scale(1.03,1)" text-anchor="end">-60</text>
<text transform="translate(163.4,946.1) scale(1.03,1)" text-anchor="middle">0.2</text>
<text transform="translate(381.6,946.1) scale(1.03,1)" text-anchor="middle">0.4</text>
<text transform="translate(599.8,946.1) scale(1.03,1)" text-anchor="middle">0.6</text>
<text transform="translate(818.0,946.1) scale(1.03,1)" text-anchor="middle">0.8</text>
<text transform="translate(1036.2,946.1) scale(1.03,1)" text-anchor="middle">1.0</text>
<text transform="translate(1254.4,946.1) scale(1.03,1)" text-anchor="middle">1.2</text>
<text transform="translate(708.3,989.2) scale(1.03,1)" text-anchor="middle">Cell Potential [V]</text>
<text font-size="36.8" transform="translate(41.5,660) rotate(-90) scale(1.0145,1)">Current Density [mA cm<tspan font-size="26.5" dy="-21.5">-2</tspan><tspan dy="21.5">]</tspan></text>
<text transform="translate(352.6,691.2) scale(1.02,1)" text-anchor="start">Pd<tspan font-size="25.2" dy="7">84</tspan><tspan dy="-7"> after test</tspan></text>
<text transform="translate(285.6,801.6) scale(1.02,1)" text-anchor="start">Pd<tspan font-size="25.2" dy="7">84</tspan><tspan dy="-7"> before test</tspan></text>
<text transform="translate(1019.6,740.8) scale(1.025,1)" text-anchor="start">Pt after test</text>
<text transform="translate(1015.9,810.6) scale(1.019,1)" text-anchor="start">Pt before test</text>
</g>
<line x1="588.1" y1="679.7" x2="705.6" y2="640.4" stroke="#2a2a2a" stroke-width="1.9"/><polygon points="733.6,631.0 707.1,644.7 704.2,636.0" fill="#222"/>
<line x1="549.0" y1="788.4" x2="618.6" y2="763.5" stroke="#2a2a2a" stroke-width="1.9"/><polygon points="646.4,753.5 620.2,767.8 617.1,759.1" fill="#222"/>
<line x1="1016.4" y1="717.6" x2="940.0" y2="663.0" stroke="#2a2a2a" stroke-width="1.9"/><polygon points="916.0,645.9 942.7,659.3 937.3,666.8" fill="#222"/>
<line x1="1006.4" y1="790.3" x2="928.1" y2="734.7" stroke="#2a2a2a" stroke-width="1.9"/><polygon points="904.1,717.6 930.8,730.9 925.5,738.4" fill="#222"/>
</svg>
</body></html>
